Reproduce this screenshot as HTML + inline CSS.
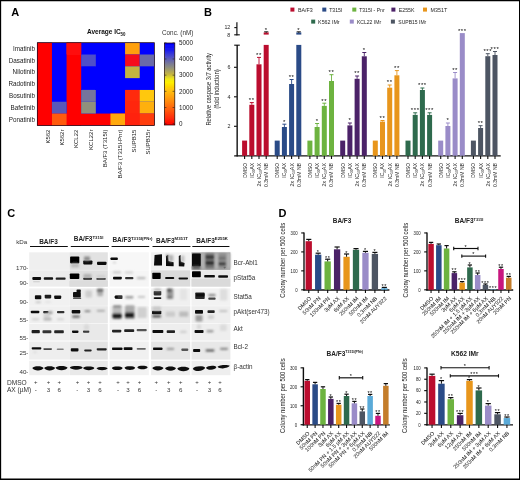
<!DOCTYPE html>
<html lang="en"><head><meta charset="utf-8"><title>Figure</title>
<style>
html,body{margin:0;padding:0;background:#fff;}
body{width:520px;height:480px;overflow:hidden;position:relative;font-family:"Liberation Sans",sans-serif;}
svg{position:absolute;left:0;top:0;display:block;}
svg text{font-family:"Liberation Sans",sans-serif;}
#frame{position:absolute;left:0;top:0;width:520px;height:480px;box-sizing:border-box;border-style:solid;border-color:#000;border-width:1.25px 1px 1.5px 1.1px;pointer-events:none;}
</style></head><body>
<svg width="520" height="480" viewBox="0 0 520 480">
<defs>
<linearGradient id="cbar" x1="0" y1="1" x2="0" y2="0">
<stop offset="0" stop-color="#ff0000"/><stop offset="0.08" stop-color="#ff2a08"/><stop offset="0.18" stop-color="#ff5a08"/><stop offset="0.34" stop-color="#ffa008"/><stop offset="0.44" stop-color="#ffc808"/><stop offset="0.52" stop-color="#fff000"/><stop offset="0.56" stop-color="#f0e818"/><stop offset="0.62" stop-color="#c4b440"/><stop offset="0.70" stop-color="#90907c"/><stop offset="0.76" stop-color="#74749c"/><stop offset="0.84" stop-color="#4848cc"/><stop offset="0.92" stop-color="#1818f0"/><stop offset="1" stop-color="#0000ff"/>
</linearGradient>
<filter id="bs" x="-5%" y="-5%" width="110%" height="110%"><feGaussianBlur stdDeviation="0.45"/></filter>
<filter id="bm" x="-5%" y="-5%" width="110%" height="110%"><feGaussianBlur stdDeviation="0.9"/></filter>
<filter id="soft" x="0" y="0" width="100%" height="100%" filterUnits="userSpaceOnUse"><feGaussianBlur stdDeviation="0.32"/></filter>
</defs>
<rect x="0" y="0" width="520" height="480" fill="#fff"/>
<g filter="url(#soft)">
<g id="panelA">
<text x="11.2" y="16" font-size="11" font-weight="bold" fill="#000">A</text>
<text x="87" y="34.2" font-size="6.8" font-weight="bold" fill="#111" textLength="38.5" lengthAdjust="spacingAndGlyphs">Average IC<tspan font-size="4.6" dy="1.7">50</tspan></text>
<text x="162" y="34.6" font-size="6.3" fill="#333" textLength="31.4" lengthAdjust="spacingAndGlyphs">Conc. (nM)</text>
<rect x="37.3" y="42.7" width="117.04" height="82.67" fill="#0000ff"/>
<rect x="37.3" y="42.7" width="14.63" height="82.67" fill="#ff0000"/>
<rect x="66.56" y="42.7" width="14.63" height="82.67" fill="#ff0000"/>
<rect x="37.3" y="113.56" width="117.04" height="11.81" fill="#ff0000"/>
<rect x="125.08" y="89.94" width="14.63" height="35.43" fill="#ff2610"/>
<rect x="66.56" y="42.7" width="14.63" height="11.81" fill="#ff1010"/>
<rect x="125.08" y="42.7" width="14.63" height="11.81" fill="#ffa010"/>
<rect x="81.19" y="54.51" width="14.63" height="11.81" fill="#5050c8"/>
<rect x="125.08" y="54.51" width="14.63" height="11.81" fill="#f5101a"/>
<rect x="139.71" y="54.51" width="14.63" height="11.81" fill="#6a6aa8"/>
<rect x="125.08" y="66.32" width="14.63" height="11.81" fill="#c4b440"/>
<rect x="81.19" y="89.94" width="14.63" height="11.81" fill="#74749c"/>
<rect x="125.08" y="89.94" width="14.63" height="11.81" fill="#ff2a10"/>
<rect x="139.71" y="89.94" width="14.63" height="11.81" fill="#ffc810"/>
<rect x="51.93" y="101.75" width="14.63" height="11.81" fill="#5858b8"/>
<rect x="81.19" y="101.75" width="14.63" height="11.81" fill="#90907c"/>
<rect x="125.08" y="101.75" width="14.63" height="11.81" fill="#ff2610"/>
<rect x="139.71" y="101.75" width="14.63" height="11.81" fill="#ffb010"/>
<rect x="51.93" y="113.56" width="14.63" height="11.81" fill="#ff5a10"/>
<rect x="110.45" y="113.56" width="14.63" height="11.81" fill="#ffa810"/>
<rect x="125.08" y="113.56" width="14.63" height="11.81" fill="#ff2010"/>
<rect x="139.71" y="113.56" width="14.63" height="11.81" fill="#ff3c10"/>
<rect x="37.3" y="42.7" width="117.04" height="82.67" fill="none" stroke="#1a0505" stroke-width="0.7"/>
<text x="35" y="50.81" font-size="6.3" text-anchor="end" fill="#222">Imatinib</text>
<text x="35" y="62.62" font-size="6.3" text-anchor="end" fill="#222">Dasatinib</text>
<text x="35" y="74.43" font-size="6.3" text-anchor="end" fill="#222">Nilotinib</text>
<text x="35" y="86.23" font-size="6.3" text-anchor="end" fill="#222">Radotinib</text>
<text x="35" y="98.05" font-size="6.3" text-anchor="end" fill="#222">Bosutinib</text>
<text x="35" y="109.86" font-size="6.3" text-anchor="end" fill="#222">Bafetinib</text>
<text x="35" y="121.67" font-size="6.3" text-anchor="end" fill="#222">Ponatinib</text>
<text x="49.6" y="129.6" font-size="6" text-anchor="end" fill="#222" transform="rotate(-90 49.6 129.6)">K562</text>
<text x="63.6" y="129.6" font-size="6" text-anchor="end" fill="#222" transform="rotate(-90 63.6 129.6)">K562r</text>
<text x="77.9" y="129.6" font-size="6" text-anchor="end" fill="#222" transform="rotate(-90 77.9 129.6)">KCL22</text>
<text x="92.7" y="129.6" font-size="6" text-anchor="end" fill="#222" transform="rotate(-90 92.7 129.6)">KCL22r</text>
<text x="107.5" y="129.6" font-size="6" text-anchor="end" fill="#222" transform="rotate(-90 107.5 129.6)">BA/F3 (T315I)</text>
<text x="122.3" y="129.6" font-size="6" text-anchor="end" fill="#222" transform="rotate(-90 122.3 129.6)">BA/F3 (T315I-Pnr)</text>
<text x="135.8" y="129.6" font-size="6" text-anchor="end" fill="#222" transform="rotate(-90 135.8 129.6)">SUPB15</text>
<text x="150" y="129.6" font-size="6" text-anchor="end" fill="#222" transform="rotate(-90 150 129.6)">SUPB15r</text>
<rect x="164.4" y="43" width="10.4" height="82" fill="url(#cbar)" stroke="#1a0505" stroke-width="0.7"/>
<line x1="172.6" y1="123.7" x2="174.6" y2="123.7" stroke="#222" stroke-width="0.6"/>
<line x1="164.4" y1="123.7" x2="166.4" y2="123.7" stroke="#222" stroke-width="0.6"/>
<text x="179" y="126" font-size="6.3" fill="#222">0</text>
<line x1="172.6" y1="107.52" x2="174.6" y2="107.52" stroke="#222" stroke-width="0.6"/>
<line x1="164.4" y1="107.52" x2="166.4" y2="107.52" stroke="#222" stroke-width="0.6"/>
<text x="179" y="109.82" font-size="6.3" fill="#222">1000</text>
<line x1="172.6" y1="91.34" x2="174.6" y2="91.34" stroke="#222" stroke-width="0.6"/>
<line x1="164.4" y1="91.34" x2="166.4" y2="91.34" stroke="#222" stroke-width="0.6"/>
<text x="179" y="93.64" font-size="6.3" fill="#222">2000</text>
<line x1="172.6" y1="75.16" x2="174.6" y2="75.16" stroke="#222" stroke-width="0.6"/>
<line x1="164.4" y1="75.16" x2="166.4" y2="75.16" stroke="#222" stroke-width="0.6"/>
<text x="179" y="77.46" font-size="6.3" fill="#222">3000</text>
<line x1="172.6" y1="58.98" x2="174.6" y2="58.98" stroke="#222" stroke-width="0.6"/>
<line x1="164.4" y1="58.98" x2="166.4" y2="58.98" stroke="#222" stroke-width="0.6"/>
<text x="179" y="61.28" font-size="6.3" fill="#222">4000</text>
<line x1="172.6" y1="42.8" x2="174.6" y2="42.8" stroke="#222" stroke-width="0.6"/>
<line x1="164.4" y1="42.8" x2="166.4" y2="42.8" stroke="#222" stroke-width="0.6"/>
<text x="179" y="45.1" font-size="6.3" fill="#222">5000</text>
</g>
<g id="panelB">
<text x="204" y="16" font-size="11" font-weight="bold" fill="#000">B</text>
<rect x="290.4" y="7.6" width="4" height="4" fill="#bb0c2e"/>
<text x="298" y="11.5" font-size="5.4" fill="#1e1e1e" textLength="14.8" lengthAdjust="spacingAndGlyphs">BA/F3</text>
<rect x="322.3" y="7.6" width="4" height="4" fill="#2b4b87"/>
<text x="329.2" y="11.5" font-size="5.4" fill="#1e1e1e" textLength="13.2" lengthAdjust="spacingAndGlyphs">T315I</text>
<rect x="352.3" y="7.6" width="4" height="4" fill="#6db33f"/>
<text x="359.2" y="11.5" font-size="5.4" fill="#1e1e1e" textLength="25.4" lengthAdjust="spacingAndGlyphs">T315I - Pnr</text>
<rect x="391.4" y="7.6" width="4" height="4" fill="#4b2167"/>
<text x="398.8" y="11.5" font-size="5.4" fill="#1e1e1e" textLength="15.7" lengthAdjust="spacingAndGlyphs">E255K</text>
<rect x="423" y="7.6" width="4" height="4" fill="#e8961c"/>
<text x="430.6" y="11.5" font-size="5.4" fill="#1e1e1e" textLength="16.7" lengthAdjust="spacingAndGlyphs">M351T</text>
<rect x="311.2" y="19.6" width="4" height="4" fill="#2e6b4d"/>
<text x="318.1" y="23.5" font-size="5.4" fill="#1e1e1e" textLength="21.5" lengthAdjust="spacingAndGlyphs">K562 IMr</text>
<rect x="349.8" y="19.6" width="4" height="4" fill="#9a8cc8"/>
<text x="356.9" y="23.5" font-size="5.4" fill="#1e1e1e" textLength="24.3" lengthAdjust="spacingAndGlyphs">KCL22 IMr</text>
<rect x="390.9" y="19.6" width="4" height="4" fill="#4d5563"/>
<text x="398.3" y="23.5" font-size="5.4" fill="#1e1e1e" textLength="28" lengthAdjust="spacingAndGlyphs">SUPB15 IMr</text>
<line x1="237.15" y1="44.9" x2="237.15" y2="156.4" stroke="#111" stroke-width="1.4"/>
<line x1="234.2" y1="155.9" x2="500.7" y2="155.9" stroke="#111" stroke-width="1.4"/>
<line x1="234.2" y1="45.2" x2="239.8" y2="45.2" stroke="#111" stroke-width="1.1"/>
<line x1="234" y1="126.3" x2="236.9" y2="126.3" stroke="#111" stroke-width="1.1"/>
<text x="230.5" y="128.2" font-size="5.3" text-anchor="end" fill="#1e1e1e">2</text>
<line x1="234" y1="96.8" x2="236.9" y2="96.8" stroke="#111" stroke-width="1.1"/>
<text x="230.5" y="98.7" font-size="5.3" text-anchor="end" fill="#1e1e1e">4</text>
<line x1="234" y1="67.3" x2="236.9" y2="67.3" stroke="#111" stroke-width="1.1"/>
<text x="230.5" y="69.2" font-size="5.3" text-anchor="end" fill="#1e1e1e">6</text>
<line x1="236.9" y1="22.3" x2="236.9" y2="35.4" stroke="#111" stroke-width="1.2"/>
<line x1="234.3" y1="27.6" x2="236.9" y2="27.6" stroke="#111" stroke-width="1.1"/>
<line x1="234.2" y1="34.8" x2="239.8" y2="34.8" stroke="#111" stroke-width="1.1"/>
<text x="230.3" y="29.3" font-size="5.3" text-anchor="end" fill="#1e1e1e">12</text>
<text x="230.3" y="36.5" font-size="5.3" text-anchor="end" fill="#1e1e1e">8</text>
<text x="210.6" y="125.6" font-size="7" fill="#1e1e1e" textLength="72.5" lengthAdjust="spacingAndGlyphs" transform="rotate(-90 210.6 125.6)">Relative caspase 3/7 activity</text>
<text x="219" y="108.8" font-size="7" fill="#1e1e1e" textLength="39.6" lengthAdjust="spacingAndGlyphs" transform="rotate(-90 219 108.8)">(fold induction)</text>
<rect x="242.1" y="140.6" width="5" height="15.2" fill="#bb0c2e"/>
<line x1="244.6" y1="155.8" x2="244.6" y2="159" stroke="#111" stroke-width="1.1"/>
<text x="246.5" y="163" font-size="5.1" text-anchor="end" fill="#1e1e1e" textLength="14.7" lengthAdjust="spacingAndGlyphs" transform="rotate(-90 246.5 163)">DMSO</text>
<rect x="249.3" y="104.8" width="5" height="51" fill="#bb0c2e"/>
<line x1="251.8" y1="104.8" x2="251.8" y2="102.6" stroke="#bb0c2e" stroke-width="0.9"/>
<line x1="249.8" y1="102.6" x2="253.8" y2="102.6" stroke="#bb0c2e" stroke-width="1"/>
<text x="251.8" y="102" font-size="6" text-anchor="middle" fill="#000" letter-spacing="0.6">**</text>
<line x1="251.8" y1="155.8" x2="251.8" y2="159" stroke="#111" stroke-width="1.1"/>
<text x="253.7" y="163" font-size="5.1" text-anchor="end" fill="#1e1e1e" textLength="14.7" lengthAdjust="spacingAndGlyphs" transform="rotate(-90 253.7 163)">IC<tspan font-size="3.2" dy="1.2">50</tspan><tspan dy="-1.2">AX</tspan></text>
<rect x="256.5" y="64.3" width="5" height="91.5" fill="#bb0c2e"/>
<line x1="259" y1="64.3" x2="259" y2="57.4" stroke="#bb0c2e" stroke-width="0.9"/>
<line x1="257" y1="57.4" x2="261" y2="57.4" stroke="#bb0c2e" stroke-width="1"/>
<text x="259" y="56.8" font-size="6" text-anchor="middle" fill="#000" letter-spacing="0.6">**</text>
<line x1="259" y1="155.8" x2="259" y2="159" stroke="#111" stroke-width="1.1"/>
<text x="260.9" y="163" font-size="5.1" text-anchor="end" fill="#1e1e1e" textLength="23.4" lengthAdjust="spacingAndGlyphs" transform="rotate(-90 260.9 163)">2x IC<tspan font-size="3.2" dy="1.2">50</tspan><tspan dy="-1.2">AX</tspan></text>
<rect x="263.7" y="44.9" width="5" height="110.9" fill="#bb0c2e"/>
<rect x="263.7" y="32.4" width="5" height="2.2" fill="#bb0c2e"/>
<line x1="264.1" y1="31.7" x2="268.3" y2="31.7" stroke="#111" stroke-width="0.8"/>
<line x1="266.2" y1="31.7" x2="266.2" y2="33" stroke="#111" stroke-width="0.8"/>
<text x="266.2" y="31.6" font-size="6" text-anchor="middle" fill="#000" letter-spacing="0.6">*</text>
<line x1="266.2" y1="155.8" x2="266.2" y2="159" stroke="#111" stroke-width="1.1"/>
<text x="268.1" y="163" font-size="5.1" text-anchor="end" fill="#1e1e1e" textLength="24" lengthAdjust="spacingAndGlyphs" transform="rotate(-90 268.1 163)">0.3mM NB</text>
<rect x="274.7" y="140.6" width="5" height="15.2" fill="#2b4b87"/>
<line x1="277.2" y1="155.8" x2="277.2" y2="159" stroke="#111" stroke-width="1.1"/>
<text x="279.1" y="163" font-size="5.1" text-anchor="end" fill="#1e1e1e" textLength="14.7" lengthAdjust="spacingAndGlyphs" transform="rotate(-90 279.1 163)">DMSO</text>
<rect x="281.9" y="127" width="5" height="28.8" fill="#2b4b87"/>
<line x1="284.4" y1="127" x2="284.4" y2="124.2" stroke="#2b4b87" stroke-width="0.9"/>
<line x1="282.4" y1="124.2" x2="286.4" y2="124.2" stroke="#2b4b87" stroke-width="1"/>
<text x="284.4" y="123.6" font-size="6" text-anchor="middle" fill="#000" letter-spacing="0.6">*</text>
<line x1="284.4" y1="155.8" x2="284.4" y2="159" stroke="#111" stroke-width="1.1"/>
<text x="286.3" y="163" font-size="5.1" text-anchor="end" fill="#1e1e1e" textLength="14.7" lengthAdjust="spacingAndGlyphs" transform="rotate(-90 286.3 163)">IC<tspan font-size="3.2" dy="1.2">50</tspan><tspan dy="-1.2">AX</tspan></text>
<rect x="289.1" y="84" width="5" height="71.8" fill="#2b4b87"/>
<line x1="291.6" y1="84" x2="291.6" y2="79.5" stroke="#2b4b87" stroke-width="0.9"/>
<line x1="289.6" y1="79.5" x2="293.6" y2="79.5" stroke="#2b4b87" stroke-width="1"/>
<text x="291.6" y="78.9" font-size="6" text-anchor="middle" fill="#000" letter-spacing="0.6">**</text>
<line x1="291.6" y1="155.8" x2="291.6" y2="159" stroke="#111" stroke-width="1.1"/>
<text x="293.5" y="163" font-size="5.1" text-anchor="end" fill="#1e1e1e" textLength="23.4" lengthAdjust="spacingAndGlyphs" transform="rotate(-90 293.5 163)">2x IC<tspan font-size="3.2" dy="1.2">50</tspan><tspan dy="-1.2">AX</tspan></text>
<rect x="296.3" y="44.9" width="5" height="110.9" fill="#2b4b87"/>
<rect x="296.3" y="32.4" width="5" height="2.2" fill="#2b4b87"/>
<line x1="296.7" y1="31.7" x2="300.9" y2="31.7" stroke="#111" stroke-width="0.8"/>
<line x1="298.8" y1="31.7" x2="298.8" y2="33" stroke="#111" stroke-width="0.8"/>
<text x="298.8" y="31.6" font-size="6" text-anchor="middle" fill="#000" letter-spacing="0.6">*</text>
<line x1="298.8" y1="155.8" x2="298.8" y2="159" stroke="#111" stroke-width="1.1"/>
<text x="300.7" y="163" font-size="5.1" text-anchor="end" fill="#1e1e1e" textLength="24" lengthAdjust="spacingAndGlyphs" transform="rotate(-90 300.7 163)">0.3mM NB</text>
<rect x="307.4" y="140.6" width="5" height="15.2" fill="#6db33f"/>
<line x1="309.9" y1="155.8" x2="309.9" y2="159" stroke="#111" stroke-width="1.1"/>
<text x="311.8" y="163" font-size="5.1" text-anchor="end" fill="#1e1e1e" textLength="14.7" lengthAdjust="spacingAndGlyphs" transform="rotate(-90 311.8 163)">DMSO</text>
<rect x="314.6" y="127" width="5" height="28.8" fill="#6db33f"/>
<line x1="317.1" y1="127" x2="317.1" y2="123.5" stroke="#6db33f" stroke-width="0.9"/>
<line x1="315.1" y1="123.5" x2="319.1" y2="123.5" stroke="#6db33f" stroke-width="1"/>
<text x="317.1" y="122.9" font-size="6" text-anchor="middle" fill="#000" letter-spacing="0.6">*</text>
<line x1="317.1" y1="155.8" x2="317.1" y2="159" stroke="#111" stroke-width="1.1"/>
<text x="319" y="163" font-size="5.1" text-anchor="end" fill="#1e1e1e" textLength="14.7" lengthAdjust="spacingAndGlyphs" transform="rotate(-90 319 163)">IC<tspan font-size="3.2" dy="1.2">50</tspan><tspan dy="-1.2">AX</tspan></text>
<rect x="321.8" y="105.9" width="5" height="49.9" fill="#6db33f"/>
<line x1="324.3" y1="105.9" x2="324.3" y2="103.2" stroke="#6db33f" stroke-width="0.9"/>
<line x1="322.3" y1="103.2" x2="326.3" y2="103.2" stroke="#6db33f" stroke-width="1"/>
<text x="324.3" y="102.6" font-size="6" text-anchor="middle" fill="#000" letter-spacing="0.6">**</text>
<line x1="324.3" y1="155.8" x2="324.3" y2="159" stroke="#111" stroke-width="1.1"/>
<text x="326.2" y="163" font-size="5.1" text-anchor="end" fill="#1e1e1e" textLength="23.4" lengthAdjust="spacingAndGlyphs" transform="rotate(-90 326.2 163)">2x IC<tspan font-size="3.2" dy="1.2">50</tspan><tspan dy="-1.2">AX</tspan></text>
<rect x="329" y="81" width="5" height="74.8" fill="#6db33f"/>
<line x1="331.5" y1="81" x2="331.5" y2="74.7" stroke="#6db33f" stroke-width="0.9"/>
<line x1="329.5" y1="74.7" x2="333.5" y2="74.7" stroke="#6db33f" stroke-width="1"/>
<text x="331.5" y="74.1" font-size="6" text-anchor="middle" fill="#000" letter-spacing="0.6">**</text>
<line x1="331.5" y1="155.8" x2="331.5" y2="159" stroke="#111" stroke-width="1.1"/>
<text x="333.4" y="163" font-size="5.1" text-anchor="end" fill="#1e1e1e" textLength="24" lengthAdjust="spacingAndGlyphs" transform="rotate(-90 333.4 163)">0.3mM NB</text>
<rect x="340.2" y="140.6" width="5" height="15.2" fill="#4b2167"/>
<line x1="342.7" y1="155.8" x2="342.7" y2="159" stroke="#111" stroke-width="1.1"/>
<text x="344.6" y="163" font-size="5.1" text-anchor="end" fill="#1e1e1e" textLength="14.7" lengthAdjust="spacingAndGlyphs" transform="rotate(-90 344.6 163)">DMSO</text>
<rect x="347.4" y="125.4" width="5" height="30.4" fill="#4b2167"/>
<line x1="349.9" y1="125.4" x2="349.9" y2="123" stroke="#4b2167" stroke-width="0.9"/>
<line x1="347.9" y1="123" x2="351.9" y2="123" stroke="#4b2167" stroke-width="1"/>
<text x="349.9" y="122.4" font-size="6" text-anchor="middle" fill="#000" letter-spacing="0.6">*</text>
<line x1="349.9" y1="155.8" x2="349.9" y2="159" stroke="#111" stroke-width="1.1"/>
<text x="351.8" y="163" font-size="5.1" text-anchor="end" fill="#1e1e1e" textLength="14.7" lengthAdjust="spacingAndGlyphs" transform="rotate(-90 351.8 163)">IC<tspan font-size="3.2" dy="1.2">50</tspan><tspan dy="-1.2">AX</tspan></text>
<rect x="354.6" y="78.8" width="5" height="77" fill="#4b2167"/>
<line x1="357.1" y1="78.8" x2="357.1" y2="76" stroke="#4b2167" stroke-width="0.9"/>
<line x1="355.1" y1="76" x2="359.1" y2="76" stroke="#4b2167" stroke-width="1"/>
<text x="357.1" y="75.4" font-size="6" text-anchor="middle" fill="#000" letter-spacing="0.6">**</text>
<line x1="357.1" y1="155.8" x2="357.1" y2="159" stroke="#111" stroke-width="1.1"/>
<text x="359" y="163" font-size="5.1" text-anchor="end" fill="#1e1e1e" textLength="23.4" lengthAdjust="spacingAndGlyphs" transform="rotate(-90 359 163)">2x IC<tspan font-size="3.2" dy="1.2">50</tspan><tspan dy="-1.2">AX</tspan></text>
<rect x="361.8" y="56.3" width="5" height="99.5" fill="#4b2167"/>
<line x1="364.3" y1="56.3" x2="364.3" y2="52.5" stroke="#4b2167" stroke-width="0.9"/>
<line x1="362.3" y1="52.5" x2="366.3" y2="52.5" stroke="#4b2167" stroke-width="1"/>
<text x="364.3" y="51.9" font-size="6" text-anchor="middle" fill="#000" letter-spacing="0.6">*</text>
<line x1="364.3" y1="155.8" x2="364.3" y2="159" stroke="#111" stroke-width="1.1"/>
<text x="366.2" y="163" font-size="5.1" text-anchor="end" fill="#1e1e1e" textLength="24" lengthAdjust="spacingAndGlyphs" transform="rotate(-90 366.2 163)">0.3mM NB</text>
<rect x="372.8" y="140.6" width="5" height="15.2" fill="#e8961c"/>
<line x1="375.3" y1="155.8" x2="375.3" y2="159" stroke="#111" stroke-width="1.1"/>
<text x="377.2" y="163" font-size="5.1" text-anchor="end" fill="#1e1e1e" textLength="14.7" lengthAdjust="spacingAndGlyphs" transform="rotate(-90 377.2 163)">DMSO</text>
<rect x="380" y="121.6" width="5" height="34.2" fill="#e8961c"/>
<line x1="382.5" y1="121.6" x2="382.5" y2="120.5" stroke="#e8961c" stroke-width="0.9"/>
<line x1="380.5" y1="120.5" x2="384.5" y2="120.5" stroke="#e8961c" stroke-width="1"/>
<text x="382.5" y="119.9" font-size="6" text-anchor="middle" fill="#000" letter-spacing="0.6">**</text>
<line x1="382.5" y1="155.8" x2="382.5" y2="159" stroke="#111" stroke-width="1.1"/>
<text x="384.4" y="163" font-size="5.1" text-anchor="end" fill="#1e1e1e" textLength="14.7" lengthAdjust="spacingAndGlyphs" transform="rotate(-90 384.4 163)">IC<tspan font-size="3.2" dy="1.2">50</tspan><tspan dy="-1.2">AX</tspan></text>
<rect x="387.2" y="87.7" width="5" height="68.1" fill="#e8961c"/>
<line x1="389.7" y1="87.7" x2="389.7" y2="85" stroke="#e8961c" stroke-width="0.9"/>
<line x1="387.7" y1="85" x2="391.7" y2="85" stroke="#e8961c" stroke-width="1"/>
<text x="389.7" y="84.4" font-size="6" text-anchor="middle" fill="#000" letter-spacing="0.6">**</text>
<line x1="389.7" y1="155.8" x2="389.7" y2="159" stroke="#111" stroke-width="1.1"/>
<text x="391.6" y="163" font-size="5.1" text-anchor="end" fill="#1e1e1e" textLength="23.4" lengthAdjust="spacingAndGlyphs" transform="rotate(-90 391.6 163)">2x IC<tspan font-size="3.2" dy="1.2">50</tspan><tspan dy="-1.2">AX</tspan></text>
<rect x="394.4" y="75.3" width="5" height="80.5" fill="#e8961c"/>
<line x1="396.9" y1="75.3" x2="396.9" y2="70.6" stroke="#e8961c" stroke-width="0.9"/>
<line x1="394.9" y1="70.6" x2="398.9" y2="70.6" stroke="#e8961c" stroke-width="1"/>
<text x="396.9" y="70" font-size="6" text-anchor="middle" fill="#000" letter-spacing="0.6">**</text>
<line x1="396.9" y1="155.8" x2="396.9" y2="159" stroke="#111" stroke-width="1.1"/>
<text x="398.8" y="163" font-size="5.1" text-anchor="end" fill="#1e1e1e" textLength="24" lengthAdjust="spacingAndGlyphs" transform="rotate(-90 398.8 163)">0.3mM NB</text>
<rect x="405.5" y="140.6" width="5" height="15.2" fill="#2e6b4d"/>
<line x1="408" y1="155.8" x2="408" y2="159" stroke="#111" stroke-width="1.1"/>
<text x="409.9" y="163" font-size="5.1" text-anchor="end" fill="#1e1e1e" textLength="14.7" lengthAdjust="spacingAndGlyphs" transform="rotate(-90 409.9 163)">DMSO</text>
<rect x="412.7" y="114.9" width="5" height="40.9" fill="#2e6b4d"/>
<line x1="415.2" y1="114.9" x2="415.2" y2="112.8" stroke="#2e6b4d" stroke-width="0.9"/>
<line x1="413.2" y1="112.8" x2="417.2" y2="112.8" stroke="#2e6b4d" stroke-width="1"/>
<text x="415.2" y="112.2" font-size="6" text-anchor="middle" fill="#000" letter-spacing="0.6">***</text>
<line x1="415.2" y1="155.8" x2="415.2" y2="159" stroke="#111" stroke-width="1.1"/>
<text x="417.1" y="163" font-size="5.1" text-anchor="end" fill="#1e1e1e" textLength="14.7" lengthAdjust="spacingAndGlyphs" transform="rotate(-90 417.1 163)">IC<tspan font-size="3.2" dy="1.2">50</tspan><tspan dy="-1.2">AX</tspan></text>
<rect x="419.9" y="90" width="5" height="65.8" fill="#2e6b4d"/>
<line x1="422.4" y1="90" x2="422.4" y2="88" stroke="#2e6b4d" stroke-width="0.9"/>
<line x1="420.4" y1="88" x2="424.4" y2="88" stroke="#2e6b4d" stroke-width="1"/>
<text x="422.4" y="87.4" font-size="6" text-anchor="middle" fill="#000" letter-spacing="0.6">***</text>
<line x1="422.4" y1="155.8" x2="422.4" y2="159" stroke="#111" stroke-width="1.1"/>
<text x="424.3" y="163" font-size="5.1" text-anchor="end" fill="#1e1e1e" textLength="23.4" lengthAdjust="spacingAndGlyphs" transform="rotate(-90 424.3 163)">2x IC<tspan font-size="3.2" dy="1.2">50</tspan><tspan dy="-1.2">AX</tspan></text>
<rect x="427.1" y="114.9" width="5" height="40.9" fill="#2e6b4d"/>
<line x1="429.6" y1="114.9" x2="429.6" y2="112.8" stroke="#2e6b4d" stroke-width="0.9"/>
<line x1="427.6" y1="112.8" x2="431.6" y2="112.8" stroke="#2e6b4d" stroke-width="1"/>
<text x="429.6" y="112.2" font-size="6" text-anchor="middle" fill="#000" letter-spacing="0.6">***</text>
<line x1="429.6" y1="155.8" x2="429.6" y2="159" stroke="#111" stroke-width="1.1"/>
<text x="431.5" y="163" font-size="5.1" text-anchor="end" fill="#1e1e1e" textLength="24" lengthAdjust="spacingAndGlyphs" transform="rotate(-90 431.5 163)">0.3mM NB</text>
<rect x="438.2" y="140.6" width="5" height="15.2" fill="#9a8cc8"/>
<line x1="440.7" y1="155.8" x2="440.7" y2="159" stroke="#111" stroke-width="1.1"/>
<text x="442.6" y="163" font-size="5.1" text-anchor="end" fill="#1e1e1e" textLength="14.7" lengthAdjust="spacingAndGlyphs" transform="rotate(-90 442.6 163)">DMSO</text>
<rect x="445.4" y="126" width="5" height="29.8" fill="#9a8cc8"/>
<line x1="447.9" y1="126" x2="447.9" y2="123" stroke="#9a8cc8" stroke-width="0.9"/>
<line x1="445.9" y1="123" x2="449.9" y2="123" stroke="#9a8cc8" stroke-width="1"/>
<text x="447.9" y="122.4" font-size="6" text-anchor="middle" fill="#000" letter-spacing="0.6">*</text>
<line x1="447.9" y1="155.8" x2="447.9" y2="159" stroke="#111" stroke-width="1.1"/>
<text x="449.8" y="163" font-size="5.1" text-anchor="end" fill="#1e1e1e" textLength="14.7" lengthAdjust="spacingAndGlyphs" transform="rotate(-90 449.8 163)">IC<tspan font-size="3.2" dy="1.2">50</tspan><tspan dy="-1.2">AX</tspan></text>
<rect x="452.6" y="78.4" width="5" height="77.4" fill="#9a8cc8"/>
<line x1="455.1" y1="78.4" x2="455.1" y2="72.5" stroke="#9a8cc8" stroke-width="0.9"/>
<line x1="453.1" y1="72.5" x2="457.1" y2="72.5" stroke="#9a8cc8" stroke-width="1"/>
<text x="455.1" y="71.9" font-size="6" text-anchor="middle" fill="#000" letter-spacing="0.6">**</text>
<line x1="455.1" y1="155.8" x2="455.1" y2="159" stroke="#111" stroke-width="1.1"/>
<text x="457" y="163" font-size="5.1" text-anchor="end" fill="#1e1e1e" textLength="23.4" lengthAdjust="spacingAndGlyphs" transform="rotate(-90 457 163)">2x IC<tspan font-size="3.2" dy="1.2">50</tspan><tspan dy="-1.2">AX</tspan></text>
<rect x="459.8" y="33.1" width="5" height="122.7" fill="#9a8cc8"/>
<text x="462.3" y="32.5" font-size="6" text-anchor="middle" fill="#000" letter-spacing="0.6">***</text>
<line x1="462.3" y1="155.8" x2="462.3" y2="159" stroke="#111" stroke-width="1.1"/>
<text x="464.2" y="163" font-size="5.1" text-anchor="end" fill="#1e1e1e" textLength="24" lengthAdjust="spacingAndGlyphs" transform="rotate(-90 464.2 163)">0.3mM NB</text>
<rect x="470.9" y="140.6" width="5" height="15.2" fill="#4d5563"/>
<line x1="473.4" y1="155.8" x2="473.4" y2="159" stroke="#111" stroke-width="1.1"/>
<text x="475.3" y="163" font-size="5.1" text-anchor="end" fill="#1e1e1e" textLength="14.7" lengthAdjust="spacingAndGlyphs" transform="rotate(-90 475.3 163)">DMSO</text>
<rect x="478.1" y="128" width="5" height="27.8" fill="#4d5563"/>
<line x1="480.6" y1="128" x2="480.6" y2="125.7" stroke="#4d5563" stroke-width="0.9"/>
<line x1="478.6" y1="125.7" x2="482.6" y2="125.7" stroke="#4d5563" stroke-width="1"/>
<text x="480.6" y="125.1" font-size="6" text-anchor="middle" fill="#000" letter-spacing="0.6">**</text>
<line x1="480.6" y1="155.8" x2="480.6" y2="159" stroke="#111" stroke-width="1.1"/>
<text x="482.5" y="163" font-size="5.1" text-anchor="end" fill="#1e1e1e" textLength="14.7" lengthAdjust="spacingAndGlyphs" transform="rotate(-90 482.5 163)">IC<tspan font-size="3.2" dy="1.2">50</tspan><tspan dy="-1.2">AX</tspan></text>
<rect x="485.3" y="56.2" width="5" height="99.6" fill="#4d5563"/>
<line x1="487.8" y1="56.2" x2="487.8" y2="53.7" stroke="#4d5563" stroke-width="0.9"/>
<line x1="485.8" y1="53.7" x2="489.8" y2="53.7" stroke="#4d5563" stroke-width="1"/>
<text x="487.8" y="53.1" font-size="6" text-anchor="middle" fill="#000" letter-spacing="0.6">***</text>
<line x1="487.8" y1="155.8" x2="487.8" y2="159" stroke="#111" stroke-width="1.1"/>
<text x="489.7" y="163" font-size="5.1" text-anchor="end" fill="#1e1e1e" textLength="23.4" lengthAdjust="spacingAndGlyphs" transform="rotate(-90 489.7 163)">2x IC<tspan font-size="3.2" dy="1.2">50</tspan><tspan dy="-1.2">AX</tspan></text>
<rect x="492.5" y="55" width="5" height="100.8" fill="#4d5563"/>
<line x1="495" y1="55" x2="495" y2="51.5" stroke="#4d5563" stroke-width="0.9"/>
<line x1="493" y1="51.5" x2="497" y2="51.5" stroke="#4d5563" stroke-width="1"/>
<text x="495" y="50.9" font-size="6" text-anchor="middle" fill="#000" letter-spacing="0.6">***</text>
<line x1="495" y1="155.8" x2="495" y2="159" stroke="#111" stroke-width="1.1"/>
<text x="496.9" y="163" font-size="5.1" text-anchor="end" fill="#1e1e1e" textLength="24" lengthAdjust="spacingAndGlyphs" transform="rotate(-90 496.9 163)">0.3mM NB</text>
</g>
<g id="panelC">
<text x="7.3" y="217" font-size="11" font-weight="bold" fill="#000">C</text>
<text x="39.2" y="243.5" font-size="6.45" font-weight="bold" fill="#222">BA/F3</text>
<line x1="30" y1="246.45" x2="67.8" y2="246.45" stroke="#111" stroke-width="1.1"/>
<text x="73.8" y="241.4" font-size="6.45" font-weight="bold" fill="#222">BA/F3<tspan font-size="4.3" dy="-2.5">T315I</tspan></text>
<line x1="70.8" y1="246.45" x2="108.9" y2="246.45" stroke="#111" stroke-width="1.1"/>
<text x="112.4" y="242.2" font-size="6.45" font-weight="bold" fill="#222">BA/F3<tspan font-size="4.3" dy="-2.5">T315I(PNr)</tspan></text>
<line x1="111.6" y1="246.45" x2="149.2" y2="246.45" stroke="#111" stroke-width="1.1"/>
<text x="156" y="242.5" font-size="6.45" font-weight="bold" fill="#222">BA/F3<tspan font-size="4.3" dy="-2.5">M351T</tspan></text>
<line x1="152.5" y1="246.45" x2="190.4" y2="246.45" stroke="#111" stroke-width="1.1"/>
<text x="196.2" y="242.5" font-size="6.45" font-weight="bold" fill="#222">BA/F3<tspan font-size="4.3" dy="-2.5">E255K</tspan></text>
<line x1="192.3" y1="246.45" x2="229.4" y2="246.45" stroke="#111" stroke-width="1.1"/>
<text x="16.2" y="244" font-size="6.2" fill="#333">kDa</text>
<text x="28.4" y="269.6" font-size="6.2" text-anchor="end" fill="#333">170-</text>
<text x="28.4" y="285" font-size="6.2" text-anchor="end" fill="#333">90-</text>
<text x="28.4" y="303.8" font-size="6.2" text-anchor="end" fill="#333">90-</text>
<text x="28.4" y="321.6" font-size="6.2" text-anchor="end" fill="#333">55-</text>
<text x="28.4" y="339.5" font-size="6.2" text-anchor="end" fill="#333">55-</text>
<text x="28.4" y="354.9" font-size="6.2" text-anchor="end" fill="#333">25-</text>
<text x="28.4" y="373.9" font-size="6.2" text-anchor="end" fill="#333">40-</text>
<rect x="29.2" y="252.3" width="39.9" height="17.6" fill="#efefef"/>
<rect x="29.2" y="270.3" width="39.9" height="16.3" fill="#ededed"/>
<rect x="29.2" y="288.4" width="39.9" height="17.4" fill="#f1f1f1"/>
<rect x="29.2" y="306.2" width="39.9" height="17" fill="#f0f0f0"/>
<rect x="29.2" y="323.7" width="39.9" height="16.9" fill="#f0f0f0"/>
<rect x="29.2" y="341.5" width="39.9" height="18.1" fill="#eeeeee"/>
<rect x="29.2" y="360.8" width="39.9" height="14.4" fill="#efefef"/>
<rect x="69.4" y="252.3" width="38.4" height="17.6" fill="#e2e2e2"/>
<rect x="69.4" y="270.3" width="38.4" height="16.3" fill="#dfdfdf"/>
<rect x="69.4" y="288.4" width="38.4" height="17.4" fill="#ececec"/>
<rect x="69.4" y="306.2" width="38.4" height="17" fill="#e8e8e8"/>
<rect x="69.4" y="323.7" width="38.4" height="16.9" fill="#e9e9e9"/>
<rect x="69.4" y="341.5" width="38.4" height="18.1" fill="#e4e4e4"/>
<rect x="69.4" y="360.8" width="38.4" height="14.4" fill="#e9e9e9"/>
<rect x="109.6" y="252.3" width="39.2" height="17.6" fill="#f7f7f7"/>
<rect x="109.6" y="270.3" width="39.2" height="16.3" fill="#f5f5f5"/>
<rect x="109.6" y="288.4" width="39.2" height="17.4" fill="#f7f7f7"/>
<rect x="109.6" y="306.2" width="39.2" height="17" fill="#f1f1f1"/>
<rect x="109.6" y="323.7" width="39.2" height="16.9" fill="#f2f2f2"/>
<rect x="109.6" y="341.5" width="39.2" height="18.1" fill="#f0f0f0"/>
<rect x="109.6" y="360.8" width="39.2" height="14.4" fill="#f2f2f2"/>
<rect x="151.1" y="252.3" width="39.2" height="17.6" fill="#f2f2f2"/>
<rect x="151.1" y="270.3" width="39.2" height="16.3" fill="#dbdbdb"/>
<rect x="151.1" y="288.4" width="39.2" height="17.4" fill="#f0f0f0"/>
<rect x="151.1" y="306.2" width="39.2" height="17" fill="#e6e6e6"/>
<rect x="151.1" y="323.7" width="39.2" height="16.9" fill="#eeeeee"/>
<rect x="151.1" y="341.5" width="39.2" height="18.1" fill="#e6e6e6"/>
<rect x="151.1" y="360.8" width="39.2" height="14.4" fill="#eeeeee"/>
<rect x="191.5" y="252.3" width="38.9" height="17.6" fill="#a6a6a6"/>
<rect x="191.5" y="270.3" width="38.9" height="16.3" fill="#e9e9e9"/>
<rect x="191.5" y="288.4" width="38.9" height="17.4" fill="#f2f2f2"/>
<rect x="191.5" y="306.2" width="38.9" height="17" fill="#eeeeee"/>
<rect x="191.5" y="323.7" width="38.9" height="16.9" fill="#eeeeee"/>
<rect x="191.5" y="341.5" width="38.9" height="18.1" fill="#e8e8e8"/>
<rect x="191.5" y="360.8" width="38.9" height="14.4" fill="#eeeeee"/>
<rect x="191.5" y="278.8" width="38.9" height="7.8" fill="#dadada"/>
<rect x="69.4" y="281" width="38.4" height="5.6" fill="#dcdcdc"/>
<g filter="url(#bs)">
<rect x="32.3" y="277.1" width="8.8" height="2.8" fill="#111" rx="0.8"/>
<rect x="43.8" y="277.3" width="9.3" height="2.5" fill="#141414" rx="0.8"/>
<rect x="55.7" y="277.5" width="9.9" height="2.3" fill="#202020" rx="0.8"/>
<rect x="33" y="281.2" width="7" height="1" fill="#ccc" rx="0.8"/>
<rect x="34.9" y="295.2" width="6.4" height="4.1" fill="#111" rx="0.8"/>
<rect x="44.7" y="294.8" width="6.5" height="3.6" fill="#1c1c1c" rx="0.8"/>
<rect x="54.2" y="295.5" width="7" height="3.4" fill="#111" rx="0.8"/>
<rect x="30.8" y="310.8" width="8.5" height="2.5" fill="#111" rx="0.8"/>
<rect x="43.2" y="310.9" width="5.4" height="2.5" fill="#222" rx="0.8"/>
<rect x="57" y="310.9" width="7.4" height="2.3" fill="#333" rx="0.8"/>
<rect x="31.6" y="330.1" width="8.2" height="3.1" fill="#1a1a1a" rx="0.8"/>
<rect x="42.5" y="330.3" width="8.9" height="3" fill="#333" rx="0.8"/>
<rect x="54.2" y="330.2" width="9.6" height="3" fill="#252525" rx="0.8"/>
<rect x="31.7" y="347.3" width="9.6" height="2.1" fill="#111" rx="0.8"/>
<rect x="43.3" y="348.2" width="8.7" height="1.7" fill="#444" rx="0.8"/>
<rect x="56.7" y="348.6" width="7.1" height="1.4" fill="#808080" rx="0.8"/>
<path d="M32.3,368 C33.99,365.7 41.91,365.7 43.6,368 C42.24,371.32 33.66,371.32 32.3,368Z" fill="#0a0a0a"/>
<path d="M44.2,368.1 C45.84,365.8 53.47,365.8 55.1,368.1 C53.79,371.42 45.51,371.42 44.2,368.1Z" fill="#0a0a0a"/>
<path d="M55.5,367.8 C57.31,365.5 65.78,365.5 67.6,367.8 C66.15,371.12 56.95,371.12 55.5,367.8Z" fill="#0a0a0a"/>
<rect x="70.1" y="256.6" width="9.2" height="6.8" fill="#050505" rx="0.8"/>
<rect x="83.2" y="260.4" width="9.2" height="4" fill="#0a0a0a" rx="0.8"/>
<rect x="97" y="261.7" width="9.5" height="3.2" fill="#0a0a0a" rx="0.8"/>
<rect x="69.8" y="273.4" width="9.5" height="5.6" fill="#050505" rx="0.8"/>
<rect x="83.2" y="277.8" width="8.8" height="1.9" fill="#111" rx="0.8"/>
<rect x="96.3" y="278.1" width="9.5" height="1.7" fill="#222" rx="0.8"/>
<rect x="73" y="292" width="7.8" height="5.2" fill="#0a0a0a" rx="0.8"/>
<rect x="76.5" y="289.6" width="4.3" height="2.8" fill="#111" rx="0.8"/>
<rect x="73" y="297.6" width="8.2" height="1.2" fill="#222" rx="0.8"/>
<rect x="71.7" y="310" width="8.6" height="3.4" fill="#111" rx="0.8"/>
<rect x="72" y="330.4" width="6.5" height="2.5" fill="#111" rx="0.8"/>
<rect x="83" y="330.5" width="6.3" height="2.3" fill="#333" rx="0.8"/>
<rect x="70.8" y="348.2" width="7.7" height="3.2" fill="#111" rx="0.8"/>
<rect x="84.2" y="349.6" width="7.5" height="1.8" fill="#222" rx="0.8"/>
<rect x="96.7" y="348.2" width="10" height="2.2" fill="#222" rx="0.8"/>
<path d="M69.8,367.5 C71.73,365.57 80.77,365.57 82.7,367.5 C81.15,370.39 71.35,370.39 69.8,367.5Z" fill="#0a0a0a"/>
<path d="M83.1,368 C84.8,366.07 92.7,366.07 94.4,368 C93.04,370.89 84.46,370.89 83.1,368Z" fill="#0a0a0a"/>
<path d="M96.5,368.2 C98.18,366.52 106.02,366.52 107.7,368.2 C106.36,370.8 97.84,370.8 96.5,368.2Z" fill="#0a0a0a"/>
<rect x="110.5" y="257.4" width="7.3" height="2.7" fill="#0a0a0a" rx="0.8"/>
<rect x="113" y="276.8" width="8.8" height="2.6" fill="#111" rx="0.8"/>
<rect x="125.1" y="277" width="8.3" height="2.3" fill="#333" rx="0.8"/>
<rect x="115" y="295.3" width="7.5" height="3.7" fill="#333" rx="0.8"/>
<rect x="114.5" y="296" width="3.5" height="2" fill="#111" rx="0.8"/>
<rect x="112" y="329.7" width="9.3" height="2.7" fill="#222" rx="0.8"/>
<rect x="124.2" y="329.3" width="10" height="2.8" fill="#222" rx="0.8"/>
<rect x="136.7" y="328.9" width="10" height="2.3" fill="#555" rx="0.8"/>
<rect x="112" y="347.4" width="10.5" height="2.7" fill="#111" rx="0.8"/>
<rect x="123.7" y="347.2" width="8.8" height="2.8" fill="#111" rx="0.8"/>
<rect x="136.7" y="348" width="9.1" height="1.8" fill="#666" rx="0.8"/>
<path d="M111.8,367.9 C113.44,365.97 121.06,365.97 122.7,367.9 C121.39,370.79 113.11,370.79 111.8,367.9Z" fill="#0a0a0a"/>
<path d="M124.5,367.8 C126.11,365.87 133.59,365.87 135.2,367.8 C133.92,370.69 125.78,370.69 124.5,367.8Z" fill="#0a0a0a"/>
<path d="M137.3,367.2 C138.86,365.39 146.14,365.39 147.7,367.2 C146.45,369.95 138.55,369.95 137.3,367.2Z" fill="#0a0a0a"/>
<path d="M154.6,255 L162,254.3 L162,265.6 L154,265.4Z" fill="#0a0a0a"/>
<path d="M166,256 L168.2,255 L168.6,261 L173.6,262.2 L173.6,266.2 L166,266Z" fill="#0a0a0a"/>
<path d="M178.8,256 L180.6,255 L181,261.5 L184.6,263 L184.2,266.4 L178.8,266.2Z" fill="#0a0a0a"/>
<rect x="152.3" y="272.7" width="8.4" height="6.3" fill="#050505" rx="0.8"/>
<rect x="165.1" y="277.1" width="9.1" height="1.9" fill="#111" rx="0.8"/>
<rect x="178.5" y="277.5" width="9.5" height="1.9" fill="#111" rx="0.8"/>
<rect x="153.7" y="291" width="7.6" height="4.4" fill="#333" rx="0.8"/>
<rect x="153.7" y="297.2" width="7.6" height="1.9" fill="#111" rx="0.8"/>
<rect x="152" y="310.7" width="9.3" height="3.5" fill="#111" rx="0.8"/>
<rect x="152.5" y="329.9" width="10.8" height="3.2" fill="#0a0a0a" rx="0.8"/>
<rect x="166.7" y="330.2" width="8.3" height="2.8" fill="#222" rx="0.8"/>
<rect x="153" y="347.4" width="9.5" height="2.7" fill="#111" rx="0.8"/>
<rect x="181.3" y="348.6" width="7" height="2.3" fill="#555" rx="0.8"/>
<path d="M152.3,367.9 C153.98,365.6 161.82,365.6 163.5,367.9 C162.16,371.22 153.64,371.22 152.3,367.9Z" fill="#0a0a0a"/>
<path d="M165.1,368.3 C166.73,366 174.37,366 176,368.3 C174.69,371.62 166.41,371.62 165.1,368.3Z" fill="#0a0a0a"/>
<path d="M177.3,368.6 C179.12,366.05 187.59,366.05 189.4,368.6 C187.95,372.21 178.75,372.21 177.3,368.6Z" fill="#0a0a0a"/>
<rect x="192" y="253.4" width="8.8" height="13.1" fill="#080808" rx="0.8"/>
<rect x="223.5" y="266.6" width="2.1" height="1.6" fill="#111" rx="0.8"/>
<rect x="192" y="271.2" width="8.8" height="6.1" fill="#050505" rx="0.8"/>
<rect x="204.2" y="274.9" width="10.7" height="2.6" fill="#111" rx="0.8"/>
<rect x="218.2" y="275.2" width="9.8" height="2.5" fill="#111" rx="0.8"/>
<rect x="195.2" y="292.4" width="9.5" height="6.6" fill="#2a2a2a" rx="0.8"/>
<rect x="196" y="293.4" width="8.5" height="3.2" fill="#0a0a0a" rx="0.8"/>
<rect x="208.3" y="297.5" width="7.3" height="2.3" fill="#444" rx="0.8"/>
<rect x="195" y="310" width="8" height="3.8" fill="#111" rx="0.8"/>
<rect x="207.5" y="310.2" width="7.2" height="2.9" fill="#222" rx="0.8"/>
<rect x="194.6" y="329.9" width="8.9" height="3.1" fill="#0a0a0a" rx="0.8"/>
<rect x="193.1" y="348.9" width="7.1" height="3.1" fill="#111" rx="0.8"/>
<path d="M192.8,368.2 C194.66,365.65 203.34,365.65 205.2,368.2 C203.71,371.81 194.29,371.81 192.8,368.2Z" fill="#0a0a0a" transform="rotate(-4 199 368.5)"/>
<path d="M206,367.3 C207.57,365.12 214.93,365.12 216.5,367.3 C215.24,370.48 207.26,370.48 206,367.3Z" fill="#0a0a0a" transform="rotate(-4 211.25 367.6)"/>
<path d="M217.5,366.3 C219.34,364.49 227.96,364.49 229.8,366.3 C228.32,369.05 218.98,369.05 217.5,366.3Z" fill="#0a0a0a" transform="rotate(-4 223.65 366.6)"/>
</g>
<g filter="url(#bm)">
<rect x="35.5" y="301.4" width="5.5" height="1.6" fill="#bdbdbd" rx="0.8"/>
<rect x="45" y="301.4" width="6" height="1.2" fill="#d6d6d6" rx="0.8"/>
<rect x="48" y="311.3" width="4.5" height="2.7" fill="#999" rx="0.8"/>
<rect x="32" y="318.2" width="7" height="2.1" fill="#cfcfcf" rx="0.8"/>
<rect x="43.5" y="317.8" width="8" height="2.8" fill="#b4b4b4" rx="0.8"/>
<rect x="57" y="318.2" width="7" height="2" fill="#d4d4d4" rx="0.8"/>
<rect x="43.5" y="313.5" width="6.5" height="4" fill="#d0d0d0" rx="0.8"/>
<rect x="33" y="351.5" width="4" height="1.5" fill="#d8d8d8" rx="0.8"/>
<rect x="71" y="263.4" width="8" height="4.1" fill="#bbb" rx="0.8"/>
<rect x="84" y="256.5" width="6" height="4.3" fill="#8c8c8c" rx="0.8"/>
<rect x="83.5" y="274" width="8" height="4" fill="#b0b0b0" rx="0.8"/>
<rect x="96.5" y="275" width="9" height="3" fill="#cfcfcf" rx="0.8"/>
<rect x="85.4" y="290.5" width="6.6" height="7.1" fill="#cdcdcd" rx="0.8"/>
<rect x="97" y="288.8" width="6.2" height="3.7" fill="#6a6a6a" rx="0.8"/>
<rect x="97.3" y="292" width="5.7" height="4.2" fill="#b0b0b0" rx="0.8"/>
<rect x="72.2" y="315.2" width="7.6" height="2.8" fill="#777" rx="0.8"/>
<rect x="84.5" y="310.5" width="6" height="1.6" fill="#6a6a6a" rx="0.8"/>
<rect x="96.7" y="310.1" width="8.3" height="1.4" fill="#9a9a9a" rx="0.8"/>
<rect x="84" y="324.5" width="5" height="5.5" fill="#dadada" rx="0.8"/>
<rect x="113" y="261.9" width="3" height="1.4" fill="#bbb" rx="0.8"/>
<rect x="113" y="271.2" width="8" height="2.3" fill="#cccccc" rx="0.8"/>
<rect x="125" y="271.4" width="8" height="2.1" fill="#d0d0d0" rx="0.8"/>
<rect x="136.8" y="277.3" width="8.7" height="1.7" fill="#aaa" rx="0.8"/>
<rect x="125.4" y="296" width="8" height="2.4" fill="#999" rx="0.8"/>
<rect x="137.8" y="296" width="7.3" height="1.7" fill="#bdbdbd" rx="0.8"/>
<rect x="112.5" y="306" width="9.2" height="13" fill="#bcbcbc" rx="0.8"/>
<rect x="113" y="305.6" width="8.5" height="1.6" fill="#6a6a6a" rx="0.8"/>
<rect x="125.5" y="305.6" width="9" height="1.6" fill="#777" rx="0.8"/>
<rect x="112.5" y="313.4" width="9.2" height="5" fill="#0f0f0f" rx="0.8"/>
<rect x="125" y="306" width="9.7" height="13" fill="#aaaaaa" rx="0.8"/>
<rect x="125" y="312.4" width="9.2" height="5.6" fill="#1a1a1a" rx="0.8"/>
<rect x="137.5" y="307" width="9.2" height="11" fill="#d0d0d0" rx="0.8"/>
<rect x="168.8" y="255" width="4.6" height="6.5" fill="#b4b4b4" rx="0.8"/>
<rect x="166.3" y="254.6" width="2.2" height="2.4" fill="#666" rx="0.8"/>
<rect x="181" y="255.5" width="3.4" height="6.5" fill="#c2c2c2" rx="0.8"/>
<rect x="154" y="288.6" width="7" height="2.4" fill="#bbb" rx="0.8"/>
<rect x="166.9" y="288.6" width="6.5" height="10.4" fill="#9a9a9a" rx="0.8"/>
<rect x="167" y="288.8" width="4.5" height="3.2" fill="#555" rx="0.8"/>
<rect x="167" y="296" width="5" height="2.5" fill="#777" rx="0.8"/>
<rect x="180" y="289" width="7" height="11" fill="#e4e4e4" rx="0.8"/>
<rect x="152.3" y="315" width="8.7" height="2.6" fill="#555" rx="0.8"/>
<rect x="152.5" y="306.5" width="8.5" height="4.2" fill="#c8c8c8" rx="0.8"/>
<rect x="165.8" y="311.6" width="9.2" height="5.2" fill="#cbcbcb" rx="0.8"/>
<rect x="179.2" y="311.6" width="9.1" height="5.2" fill="#bcbcbc" rx="0.8"/>
<rect x="180" y="330.7" width="6.7" height="2.3" fill="#cdcdcd" rx="0.8"/>
<rect x="166.7" y="347.9" width="7.5" height="1.9" fill="#8a8a8a" rx="0.8"/>
<rect x="192.3" y="266" width="8.2" height="3" fill="#555" rx="0.8"/>
<rect x="205.2" y="253.5" width="9" height="15" fill="#6e6e6e" rx="0.8"/>
<rect x="205.4" y="255.8" width="8.8" height="2.8" fill="#2a2a2a" rx="0.8"/>
<rect x="205.4" y="261.6" width="8.8" height="2.8" fill="#1c1c1c" rx="0.8"/>
<rect x="202" y="253" width="2.3" height="15.5" fill="#b8b8b8" rx="0.8"/>
<rect x="218.5" y="253.5" width="7.8" height="15" fill="#8c8c8c" rx="0.8"/>
<rect x="218.5" y="257.3" width="7.3" height="1.9" fill="#666" rx="0.8"/>
<rect x="218.5" y="262.5" width="7.3" height="2.7" fill="#2c2c2c" rx="0.8"/>
<rect x="215.4" y="253" width="2.2" height="15.5" fill="#bcbcbc" rx="0.8"/>
<rect x="227.3" y="253" width="3.1" height="15.5" fill="#b6b6b6" rx="0.8"/>
<rect x="208.3" y="294" width="7.3" height="2.2" fill="#888" rx="0.8"/>
<rect x="220" y="289" width="7.3" height="11.5" fill="#dedede" rx="0.8"/>
<rect x="195.5" y="315" width="7" height="6.5" fill="#9c9c9c" rx="0.8"/>
<rect x="208" y="315" width="6" height="4" fill="#d0d0d0" rx="0.8"/>
<rect x="219.2" y="310.2" width="8.3" height="1.9" fill="#bbb" rx="0.8"/>
<rect x="206.5" y="330.2" width="7" height="2" fill="#888" rx="0.8"/>
<rect x="220" y="324.5" width="6.7" height="6.5" fill="#dcdcdc" rx="0.8"/>
<rect x="197" y="324.5" width="4" height="4.5" fill="#d8d8d8" rx="0.8"/>
<rect x="205.6" y="349.6" width="8.8" height="1.9" fill="#4a4a4a" rx="0.8"/>
<rect x="220" y="347.7" width="8" height="2.2" fill="#8a8a8a" rx="0.8"/>
</g>
<text x="233.6" y="264.7" font-size="6.3" fill="#333">Bcr-Abl1</text>
<text x="233.6" y="279.6" font-size="6.3" fill="#333">pStat5a</text>
<text x="233.6" y="298.5" font-size="6.3" fill="#333">Stat5a</text>
<text x="233.6" y="314.2" font-size="6.3" fill="#333">pAkt(ser473)</text>
<text x="233.6" y="331.1" font-size="6.3" fill="#333">Akt</text>
<text x="233.6" y="348.8" font-size="6.3" fill="#333">Bcl-2</text>
<text x="233.6" y="368.9" font-size="6.3" fill="#333">β-actin</text>
<text x="6.9" y="384.6" font-size="6.6" fill="#333">DMSO</text>
<text x="6.9" y="391.6" font-size="6.6" fill="#333">AX (µM)</text>
<text x="35.8" y="384.4" font-size="6" text-anchor="middle" fill="#333">+</text>
<text x="35.8" y="391.5" font-size="6.2" text-anchor="middle" fill="#333">-</text>
<text x="48.5" y="384.4" font-size="6" text-anchor="middle" fill="#333">+</text>
<text x="48.5" y="391.5" font-size="6.2" text-anchor="middle" fill="#333">3</text>
<text x="59.3" y="384.4" font-size="6" text-anchor="middle" fill="#333">+</text>
<text x="59.3" y="391.5" font-size="6.2" text-anchor="middle" fill="#333">6</text>
<text x="77.4" y="384.4" font-size="6" text-anchor="middle" fill="#333">+</text>
<text x="77.4" y="391.5" font-size="6.2" text-anchor="middle" fill="#333">-</text>
<text x="88.4" y="384.4" font-size="6" text-anchor="middle" fill="#333">+</text>
<text x="88.4" y="391.5" font-size="6.2" text-anchor="middle" fill="#333">3</text>
<text x="100" y="384.4" font-size="6" text-anchor="middle" fill="#333">+</text>
<text x="100" y="391.5" font-size="6.2" text-anchor="middle" fill="#333">6</text>
<text x="118" y="384.4" font-size="6" text-anchor="middle" fill="#333">+</text>
<text x="118" y="391.5" font-size="6.2" text-anchor="middle" fill="#333">-</text>
<text x="128" y="384.4" font-size="6" text-anchor="middle" fill="#333">+</text>
<text x="128" y="391.5" font-size="6.2" text-anchor="middle" fill="#333">3</text>
<text x="139.5" y="384.4" font-size="6" text-anchor="middle" fill="#333">+</text>
<text x="139.5" y="391.5" font-size="6.2" text-anchor="middle" fill="#333">6</text>
<text x="156.3" y="384.4" font-size="6" text-anchor="middle" fill="#333">+</text>
<text x="156.3" y="391.5" font-size="6.2" text-anchor="middle" fill="#333">-</text>
<text x="168.8" y="384.4" font-size="6" text-anchor="middle" fill="#333">+</text>
<text x="168.8" y="391.5" font-size="6.2" text-anchor="middle" fill="#333">3</text>
<text x="180.8" y="384.4" font-size="6" text-anchor="middle" fill="#333">+</text>
<text x="180.8" y="391.5" font-size="6.2" text-anchor="middle" fill="#333">6</text>
<text x="197" y="384.4" font-size="6" text-anchor="middle" fill="#333">+</text>
<text x="197" y="391.5" font-size="6.2" text-anchor="middle" fill="#333">-</text>
<text x="209.5" y="384.4" font-size="6" text-anchor="middle" fill="#333">+</text>
<text x="209.5" y="391.5" font-size="6.2" text-anchor="middle" fill="#333">3</text>
<text x="220" y="384.4" font-size="6" text-anchor="middle" fill="#333">+</text>
<text x="220" y="391.5" font-size="6.2" text-anchor="middle" fill="#333">6</text>
</g>
<g id="panelD">
<text x="278.6" y="217" font-size="11" font-weight="bold" fill="#000">D</text>
<line x1="304" y1="232.45" x2="304" y2="290.6" stroke="#111" stroke-width="1.4"/>
<line x1="303.3" y1="290" x2="389.4" y2="290" stroke="#111" stroke-width="1.4"/>
<line x1="301.2" y1="289.8" x2="304" y2="289.8" stroke="#111" stroke-width="1.15"/>
<text x="297.7" y="291.6" font-size="5" text-anchor="end" fill="#1e1e1e" textLength="2.4" lengthAdjust="spacingAndGlyphs">0</text>
<line x1="301.2" y1="270.85" x2="304" y2="270.85" stroke="#111" stroke-width="1.15"/>
<text x="297.7" y="272.65" font-size="5" text-anchor="end" fill="#1e1e1e" textLength="7.2" lengthAdjust="spacingAndGlyphs">100</text>
<line x1="301.2" y1="251.9" x2="304" y2="251.9" stroke="#111" stroke-width="1.15"/>
<text x="297.7" y="253.7" font-size="5" text-anchor="end" fill="#1e1e1e" textLength="7.2" lengthAdjust="spacingAndGlyphs">200</text>
<line x1="301.2" y1="232.95" x2="304" y2="232.95" stroke="#111" stroke-width="1.15"/>
<text x="297.7" y="234.75" font-size="5" text-anchor="end" fill="#1e1e1e" textLength="7.2" lengthAdjust="spacingAndGlyphs">300</text>
<text x="342.1" y="223.25" font-size="6.4" text-anchor="middle" font-weight="bold" fill="#222">BA/F3</text>
<text x="284.6" y="297.7" font-size="7.2" fill="#1e1e1e" textLength="75" lengthAdjust="spacingAndGlyphs" transform="rotate(-90 284.6 297.7)">Colony number per 500 cells</text>
<rect x="305.6" y="241.2" width="6.3" height="48.6" fill="#bb0c2e"/>
<line x1="308.75" y1="241.2" x2="308.75" y2="239.4" stroke="#111" stroke-width="1"/>
<line x1="306.2" y1="239.4" x2="311.3" y2="239.4" stroke="#111" stroke-width="1.2"/>
<line x1="308.75" y1="289.8" x2="308.75" y2="293" stroke="#111" stroke-width="1.1"/>
<text x="311.55" y="298.8" font-size="5.5" text-anchor="end" fill="#111" transform="rotate(-45 311.55 298.8)">DMSO</text>
<rect x="315.05" y="254.7" width="6.3" height="35.1" fill="#2b4b87"/>
<line x1="318.2" y1="254.7" x2="318.2" y2="253.2" stroke="#111" stroke-width="1"/>
<line x1="315.65" y1="253.2" x2="320.75" y2="253.2" stroke="#111" stroke-width="1.2"/>
<text x="318.2" y="253.7" font-size="5.52" text-anchor="middle" fill="#000" letter-spacing="0.6">*</text>
<line x1="318.2" y1="289.8" x2="318.2" y2="293" stroke="#111" stroke-width="1.1"/>
<text x="321" y="298.8" font-size="5.5" text-anchor="end" fill="#111" transform="rotate(-45 321 298.8)">50nM PN</text>
<rect x="324.5" y="261.4" width="6.3" height="28.4" fill="#6db33f"/>
<line x1="327.65" y1="261.4" x2="327.65" y2="259.2" stroke="#111" stroke-width="1"/>
<line x1="325.1" y1="259.2" x2="330.2" y2="259.2" stroke="#111" stroke-width="1.2"/>
<text x="327.65" y="259.7" font-size="5.52" text-anchor="middle" fill="#000" letter-spacing="0.6">**</text>
<line x1="327.65" y1="289.8" x2="327.65" y2="293" stroke="#111" stroke-width="1.1"/>
<text x="330.45" y="298.8" font-size="5.5" text-anchor="end" fill="#111" transform="rotate(-45 330.45 298.8)">100nM PN</text>
<rect x="333.95" y="249.3" width="6.3" height="40.5" fill="#4b2167"/>
<line x1="337.1" y1="249.3" x2="337.1" y2="247" stroke="#111" stroke-width="1"/>
<line x1="334.55" y1="247" x2="339.65" y2="247" stroke="#111" stroke-width="1.2"/>
<line x1="337.1" y1="289.8" x2="337.1" y2="293" stroke="#111" stroke-width="1.1"/>
<text x="339.9" y="298.8" font-size="5.5" text-anchor="end" fill="#111" transform="rotate(-45 339.9 298.8)">3µM AX</text>
<rect x="343.4" y="256.8" width="6.3" height="33" fill="#e8961c"/>
<line x1="346.55" y1="256.8" x2="346.55" y2="254" stroke="#111" stroke-width="1"/>
<line x1="344" y1="254" x2="349.1" y2="254" stroke="#111" stroke-width="1.2"/>
<text x="346.55" y="254.5" font-size="5.52" text-anchor="middle" fill="#000" letter-spacing="0.6">*</text>
<line x1="346.55" y1="289.8" x2="346.55" y2="293" stroke="#111" stroke-width="1.1"/>
<text x="349.35" y="298.8" font-size="5.5" text-anchor="end" fill="#111" transform="rotate(-45 349.35 298.8)">6µM AX</text>
<rect x="352.85" y="249.8" width="6.3" height="40" fill="#2e6b4d"/>
<line x1="356" y1="249.8" x2="356" y2="248.6" stroke="#111" stroke-width="1"/>
<line x1="353.45" y1="248.6" x2="358.55" y2="248.6" stroke="#111" stroke-width="1.2"/>
<line x1="356" y1="289.8" x2="356" y2="293" stroke="#111" stroke-width="1.1"/>
<text x="358.8" y="298.8" font-size="5.5" text-anchor="end" fill="#111" transform="rotate(-45 358.8 298.8)">250nM IM</text>
<rect x="362.3" y="252.8" width="6.3" height="37" fill="#9a8cc8"/>
<line x1="365.45" y1="252.8" x2="365.45" y2="251.4" stroke="#111" stroke-width="1"/>
<line x1="362.9" y1="251.4" x2="368" y2="251.4" stroke="#111" stroke-width="1.2"/>
<text x="365.45" y="251.9" font-size="5.52" text-anchor="middle" fill="#000" letter-spacing="0.6">*</text>
<line x1="365.45" y1="289.8" x2="365.45" y2="293" stroke="#111" stroke-width="1.1"/>
<text x="368.25" y="298.8" font-size="5.5" text-anchor="end" fill="#111" transform="rotate(-45 368.25 298.8)">500nM IM</text>
<rect x="371.75" y="253.9" width="6.3" height="35.9" fill="#4d5563"/>
<line x1="374.9" y1="253.9" x2="374.9" y2="252.4" stroke="#111" stroke-width="1"/>
<line x1="372.35" y1="252.4" x2="377.45" y2="252.4" stroke="#111" stroke-width="1.2"/>
<text x="374.9" y="252.9" font-size="5.52" text-anchor="middle" fill="#000" letter-spacing="0.6">*</text>
<line x1="374.9" y1="289.8" x2="374.9" y2="293" stroke="#111" stroke-width="1.1"/>
<text x="377.7" y="298.8" font-size="5.5" text-anchor="end" fill="#111" transform="rotate(-45 377.7 298.8)">0.3mM NB</text>
<rect x="381.2" y="288.2" width="6.3" height="1.6" fill="#5aaad8"/>
<line x1="384.35" y1="288.2" x2="384.35" y2="287.4" stroke="#111" stroke-width="1"/>
<line x1="381.8" y1="287.4" x2="386.9" y2="287.4" stroke="#111" stroke-width="1.2"/>
<text x="384.35" y="287.9" font-size="5.52" text-anchor="middle" fill="#000" letter-spacing="0.6">**</text>
<line x1="384.35" y1="289.8" x2="384.35" y2="293" stroke="#111" stroke-width="1.1"/>
<text x="387.15" y="298.8" font-size="5.5" text-anchor="end" fill="#111" transform="rotate(-45 387.15 298.8)">20nM AUY922</text>
<line x1="427" y1="232.45" x2="427" y2="290.6" stroke="#111" stroke-width="1.4"/>
<line x1="426.3" y1="290" x2="513.2" y2="290" stroke="#111" stroke-width="1.4"/>
<line x1="424.2" y1="289.8" x2="427" y2="289.8" stroke="#111" stroke-width="1.15"/>
<text x="420.7" y="291.6" font-size="5" text-anchor="end" fill="#1e1e1e" textLength="2.4" lengthAdjust="spacingAndGlyphs">0</text>
<line x1="424.2" y1="270.85" x2="427" y2="270.85" stroke="#111" stroke-width="1.15"/>
<text x="420.7" y="272.65" font-size="5" text-anchor="end" fill="#1e1e1e" textLength="7.2" lengthAdjust="spacingAndGlyphs">100</text>
<line x1="424.2" y1="251.9" x2="427" y2="251.9" stroke="#111" stroke-width="1.15"/>
<text x="420.7" y="253.7" font-size="5" text-anchor="end" fill="#1e1e1e" textLength="7.2" lengthAdjust="spacingAndGlyphs">200</text>
<line x1="424.2" y1="232.95" x2="427" y2="232.95" stroke="#111" stroke-width="1.15"/>
<text x="420.7" y="234.75" font-size="5" text-anchor="end" fill="#1e1e1e" textLength="7.2" lengthAdjust="spacingAndGlyphs">300</text>
<text x="469.1" y="223.4" font-size="6.5" font-weight="bold" text-anchor="middle" fill="#222">BA/F3<tspan font-size="3.85" dy="-2.6">T315I</tspan></text>
<text x="408.1" y="297.5" font-size="7.2" fill="#1e1e1e" textLength="74.8" lengthAdjust="spacingAndGlyphs" transform="rotate(-90 408.1 297.5)">Colony number per 500 cells</text>
<rect x="428.3" y="243.9" width="5.5" height="45.9" fill="#bb0c2e"/>
<line x1="431.05" y1="243.9" x2="431.05" y2="242.4" stroke="#111" stroke-width="1"/>
<line x1="428.9" y1="242.4" x2="433.2" y2="242.4" stroke="#111" stroke-width="1.2"/>
<line x1="431.05" y1="289.8" x2="431.05" y2="293" stroke="#111" stroke-width="1.1"/>
<text x="433.85" y="298.8" font-size="5.5" text-anchor="end" fill="#111" transform="rotate(-45 433.85 298.8)">DMSO</text>
<rect x="436.07" y="245.2" width="5.5" height="44.6" fill="#2b4b87"/>
<line x1="438.82" y1="245.2" x2="438.82" y2="244" stroke="#111" stroke-width="1"/>
<line x1="436.67" y1="244" x2="440.97" y2="244" stroke="#111" stroke-width="1.2"/>
<line x1="438.82" y1="289.8" x2="438.82" y2="293" stroke="#111" stroke-width="1.1"/>
<text x="441.62" y="298.8" font-size="5.5" text-anchor="end" fill="#111" transform="rotate(-45 441.62 298.8)">250nM IM</text>
<rect x="443.84" y="248.5" width="5.5" height="41.3" fill="#6db33f"/>
<line x1="446.59" y1="248.5" x2="446.59" y2="245.6" stroke="#111" stroke-width="1"/>
<line x1="444.44" y1="245.6" x2="448.74" y2="245.6" stroke="#111" stroke-width="1.2"/>
<line x1="446.59" y1="289.8" x2="446.59" y2="293" stroke="#111" stroke-width="1.1"/>
<text x="449.39" y="298.8" font-size="5.5" text-anchor="end" fill="#111" transform="rotate(-45 449.39 298.8)">500nM IM</text>
<rect x="451.61" y="273.1" width="5.5" height="16.7" fill="#4b2167"/>
<line x1="454.36" y1="273.1" x2="454.36" y2="271.8" stroke="#111" stroke-width="1"/>
<line x1="452.21" y1="271.8" x2="456.51" y2="271.8" stroke="#111" stroke-width="1.2"/>
<text x="454.36" y="272.3" font-size="5.52" text-anchor="middle" fill="#000" letter-spacing="0.6">**</text>
<line x1="454.36" y1="289.8" x2="454.36" y2="293" stroke="#111" stroke-width="1.1"/>
<text x="457.16" y="298.8" font-size="5.5" text-anchor="end" fill="#111" transform="rotate(-45 457.16 298.8)">3µM AX</text>
<rect x="459.38" y="282.6" width="5.5" height="7.2" fill="#e8961c"/>
<line x1="462.13" y1="282.6" x2="462.13" y2="281.6" stroke="#111" stroke-width="1"/>
<line x1="459.98" y1="281.6" x2="464.28" y2="281.6" stroke="#111" stroke-width="1.2"/>
<text x="462.13" y="282.1" font-size="5.52" text-anchor="middle" fill="#000" letter-spacing="0.6">***</text>
<line x1="462.13" y1="289.8" x2="462.13" y2="293" stroke="#111" stroke-width="1.1"/>
<text x="464.93" y="298.8" font-size="5.5" text-anchor="end" fill="#111" transform="rotate(-45 464.93 298.8)">6µM AX</text>
<rect x="467.15" y="267.4" width="5.5" height="22.4" fill="#2e6b4d"/>
<line x1="469.9" y1="267.4" x2="469.9" y2="265" stroke="#111" stroke-width="1"/>
<line x1="467.75" y1="265" x2="472.05" y2="265" stroke="#111" stroke-width="1.2"/>
<text x="469.9" y="265.5" font-size="5.52" text-anchor="middle" fill="#000" letter-spacing="0.6">*</text>
<line x1="469.9" y1="289.8" x2="469.9" y2="293" stroke="#111" stroke-width="1.1"/>
<text x="472.7" y="298.8" font-size="5.5" text-anchor="end" fill="#111" transform="rotate(-45 472.7 298.8)">250nM IM + 1.5 µM AX</text>
<rect x="474.92" y="275" width="5.5" height="14.8" fill="#9a8cc8"/>
<line x1="477.67" y1="275" x2="477.67" y2="273" stroke="#111" stroke-width="1"/>
<line x1="475.52" y1="273" x2="479.82" y2="273" stroke="#111" stroke-width="1.2"/>
<text x="477.67" y="273.5" font-size="5.52" text-anchor="middle" fill="#000" letter-spacing="0.6">**</text>
<line x1="477.67" y1="289.8" x2="477.67" y2="293" stroke="#111" stroke-width="1.1"/>
<text x="480.47" y="298.8" font-size="5.5" text-anchor="end" fill="#111" transform="rotate(-45 480.47 298.8)">250nM IM + 3µM AX</text>
<rect x="482.69" y="285" width="5.5" height="4.8" fill="#4d5563"/>
<line x1="485.44" y1="285" x2="485.44" y2="284" stroke="#111" stroke-width="1"/>
<line x1="483.29" y1="284" x2="487.59" y2="284" stroke="#111" stroke-width="1.2"/>
<text x="485.44" y="284.5" font-size="5.52" text-anchor="middle" fill="#000" letter-spacing="0.6">***</text>
<line x1="485.44" y1="289.8" x2="485.44" y2="293" stroke="#111" stroke-width="1.1"/>
<text x="488.24" y="298.8" font-size="5.5" text-anchor="end" fill="#111" transform="rotate(-45 488.24 298.8)">250nM IM + 6µM AX</text>
<rect x="490.46" y="289.3" width="5.5" height="0.5" fill="#5aaad8"/>
<text x="493.21" y="289.8" font-size="5.52" text-anchor="middle" fill="#000" letter-spacing="0.6">***</text>
<line x1="493.21" y1="289.8" x2="493.21" y2="293" stroke="#111" stroke-width="1.1"/>
<text x="496.01" y="298.8" font-size="5.5" text-anchor="end" fill="#111" transform="rotate(-45 496.01 298.8)">0.3mM NB</text>
<rect x="498.23" y="269" width="5.5" height="20.8" fill="#c8187f"/>
<line x1="500.98" y1="269" x2="500.98" y2="267.2" stroke="#111" stroke-width="1"/>
<line x1="498.83" y1="267.2" x2="503.13" y2="267.2" stroke="#111" stroke-width="1.2"/>
<text x="500.98" y="267.7" font-size="5.52" text-anchor="middle" fill="#000" letter-spacing="0.6">**</text>
<line x1="500.98" y1="289.8" x2="500.98" y2="293" stroke="#111" stroke-width="1.1"/>
<text x="503.78" y="298.8" font-size="5.5" text-anchor="end" fill="#111" transform="rotate(-45 503.78 298.8)">20nM AUY922</text>
<rect x="506" y="277.7" width="5.5" height="12.1" fill="#c47d2c"/>
<line x1="508.75" y1="277.7" x2="508.75" y2="276.4" stroke="#111" stroke-width="1"/>
<line x1="506.6" y1="276.4" x2="510.9" y2="276.4" stroke="#111" stroke-width="1.2"/>
<text x="508.75" y="276.9" font-size="5.52" text-anchor="middle" fill="#000" letter-spacing="0.6">**</text>
<line x1="508.75" y1="289.8" x2="508.75" y2="293" stroke="#111" stroke-width="1.1"/>
<text x="511.55" y="298.8" font-size="5.5" text-anchor="end" fill="#111" transform="rotate(-45 511.55 298.8)">20nM PN</text>
<line x1="453.7" y1="248.5" x2="478" y2="248.5" stroke="#111" stroke-width="1.15"/>
<line x1="453.7" y1="246.8" x2="453.7" y2="250.2" stroke="#111" stroke-width="1.1"/>
<line x1="478" y1="246.8" x2="478" y2="250.2" stroke="#111" stroke-width="1.1"/>
<text x="465.85" y="248.5" font-size="5.52" text-anchor="middle" fill="#000" letter-spacing="0.6">*</text>
<line x1="461.8" y1="256.1" x2="485.6" y2="256.1" stroke="#111" stroke-width="1.15"/>
<line x1="461.8" y1="254.4" x2="461.8" y2="257.8" stroke="#111" stroke-width="1.1"/>
<line x1="485.6" y1="254.4" x2="485.6" y2="257.8" stroke="#111" stroke-width="1.1"/>
<text x="473.7" y="256.1" font-size="5.52" text-anchor="middle" fill="#000" letter-spacing="0.6">*</text>
<line x1="303.4" y1="367.35" x2="303.4" y2="425.5" stroke="#111" stroke-width="1.4"/>
<line x1="302.7" y1="424.9" x2="389.8" y2="424.9" stroke="#111" stroke-width="1.4"/>
<line x1="300.6" y1="424.7" x2="303.4" y2="424.7" stroke="#111" stroke-width="1.15"/>
<text x="297.1" y="426.5" font-size="5" text-anchor="end" fill="#1e1e1e" textLength="2.4" lengthAdjust="spacingAndGlyphs">0</text>
<line x1="300.6" y1="405.75" x2="303.4" y2="405.75" stroke="#111" stroke-width="1.15"/>
<text x="297.1" y="407.55" font-size="5" text-anchor="end" fill="#1e1e1e" textLength="7.2" lengthAdjust="spacingAndGlyphs">100</text>
<line x1="300.6" y1="386.8" x2="303.4" y2="386.8" stroke="#111" stroke-width="1.15"/>
<text x="297.1" y="388.6" font-size="5" text-anchor="end" fill="#1e1e1e" textLength="7.2" lengthAdjust="spacingAndGlyphs">200</text>
<line x1="300.6" y1="367.85" x2="303.4" y2="367.85" stroke="#111" stroke-width="1.15"/>
<text x="297.1" y="369.65" font-size="5" text-anchor="end" fill="#1e1e1e" textLength="7.2" lengthAdjust="spacingAndGlyphs">300</text>
<text x="344.8" y="355.6" font-size="6.5" font-weight="bold" text-anchor="middle" fill="#222">BA/F3<tspan font-size="3.55" dy="-2.6">T315I(PNr)</tspan></text>
<text x="285.2" y="432.9" font-size="7.2" fill="#1e1e1e" textLength="74.5" lengthAdjust="spacingAndGlyphs" transform="rotate(-90 285.2 432.9)">Colony number per 500 cells</text>
<rect x="304.5" y="380.8" width="5.5" height="43.9" fill="#bb0c2e"/>
<line x1="307.25" y1="380.8" x2="307.25" y2="379.6" stroke="#111" stroke-width="1"/>
<line x1="305.1" y1="379.6" x2="309.4" y2="379.6" stroke="#111" stroke-width="1.2"/>
<line x1="307.25" y1="424.7" x2="307.25" y2="427.9" stroke="#111" stroke-width="1.1"/>
<text x="310.05" y="433.7" font-size="5.5" text-anchor="end" fill="#111" transform="rotate(-45 310.05 433.7)">DMSO</text>
<rect x="312.36" y="384.3" width="5.5" height="40.4" fill="#2b4b87"/>
<line x1="315.11" y1="384.3" x2="315.11" y2="382.4" stroke="#111" stroke-width="1"/>
<line x1="312.96" y1="382.4" x2="317.26" y2="382.4" stroke="#111" stroke-width="1.2"/>
<line x1="315.11" y1="424.7" x2="315.11" y2="427.9" stroke="#111" stroke-width="1.1"/>
<text x="317.91" y="433.7" font-size="5.5" text-anchor="end" fill="#111" transform="rotate(-45 317.91 433.7)">50nM PN</text>
<rect x="320.22" y="389" width="5.5" height="35.7" fill="#6db33f"/>
<line x1="322.97" y1="389" x2="322.97" y2="386.8" stroke="#111" stroke-width="1"/>
<line x1="320.82" y1="386.8" x2="325.12" y2="386.8" stroke="#111" stroke-width="1.2"/>
<line x1="322.97" y1="424.7" x2="322.97" y2="427.9" stroke="#111" stroke-width="1.1"/>
<text x="325.77" y="433.7" font-size="5.5" text-anchor="end" fill="#111" transform="rotate(-45 325.77 433.7)">100nM PN</text>
<rect x="328.08" y="398.9" width="5.5" height="25.8" fill="#4b2167"/>
<line x1="330.83" y1="398.9" x2="330.83" y2="397" stroke="#111" stroke-width="1"/>
<line x1="328.68" y1="397" x2="332.98" y2="397" stroke="#111" stroke-width="1.2"/>
<text x="330.83" y="397.5" font-size="5.52" text-anchor="middle" fill="#000" letter-spacing="0.6">*</text>
<line x1="330.83" y1="424.7" x2="330.83" y2="427.9" stroke="#111" stroke-width="1.1"/>
<text x="333.63" y="433.7" font-size="5.5" text-anchor="end" fill="#111" transform="rotate(-45 333.63 433.7)">3µM AX</text>
<rect x="335.94" y="404.7" width="5.5" height="20" fill="#e8961c"/>
<line x1="338.69" y1="404.7" x2="338.69" y2="403.4" stroke="#111" stroke-width="1"/>
<line x1="336.54" y1="403.4" x2="340.84" y2="403.4" stroke="#111" stroke-width="1.2"/>
<text x="338.69" y="403.9" font-size="5.52" text-anchor="middle" fill="#000" letter-spacing="0.6">**</text>
<line x1="338.69" y1="424.7" x2="338.69" y2="427.9" stroke="#111" stroke-width="1.1"/>
<text x="341.49" y="433.7" font-size="5.5" text-anchor="end" fill="#111" transform="rotate(-45 341.49 433.7)">6µM AX</text>
<rect x="343.8" y="396" width="5.5" height="28.7" fill="#2e6b4d"/>
<line x1="346.55" y1="396" x2="346.55" y2="394.2" stroke="#111" stroke-width="1"/>
<line x1="344.4" y1="394.2" x2="348.7" y2="394.2" stroke="#111" stroke-width="1.2"/>
<text x="346.55" y="394.7" font-size="5.52" text-anchor="middle" fill="#000" letter-spacing="0.6">*</text>
<line x1="346.55" y1="424.7" x2="346.55" y2="427.9" stroke="#111" stroke-width="1.1"/>
<text x="349.35" y="433.7" font-size="5.5" text-anchor="end" fill="#111" transform="rotate(-45 349.35 433.7)">50nM PN + 1.5 µM AX</text>
<rect x="351.66" y="403.3" width="5.5" height="21.4" fill="#9a8cc8"/>
<line x1="354.41" y1="403.3" x2="354.41" y2="401.4" stroke="#111" stroke-width="1"/>
<line x1="352.26" y1="401.4" x2="356.56" y2="401.4" stroke="#111" stroke-width="1.2"/>
<text x="354.41" y="401.9" font-size="5.52" text-anchor="middle" fill="#000" letter-spacing="0.6">**</text>
<line x1="354.41" y1="424.7" x2="354.41" y2="427.9" stroke="#111" stroke-width="1.1"/>
<text x="357.21" y="433.7" font-size="5.5" text-anchor="end" fill="#111" transform="rotate(-45 357.21 433.7)">50nM PN + 3µM AX</text>
<rect x="359.52" y="411.4" width="5.5" height="13.3" fill="#4d5563"/>
<line x1="362.27" y1="411.4" x2="362.27" y2="409" stroke="#111" stroke-width="1"/>
<line x1="360.12" y1="409" x2="364.42" y2="409" stroke="#111" stroke-width="1.2"/>
<text x="362.27" y="409.5" font-size="5.52" text-anchor="middle" fill="#000" letter-spacing="0.6">**</text>
<line x1="362.27" y1="424.7" x2="362.27" y2="427.9" stroke="#111" stroke-width="1.1"/>
<text x="365.07" y="433.7" font-size="5.5" text-anchor="end" fill="#111" transform="rotate(-45 365.07 433.7)">50nM PN + 6µM AX</text>
<rect x="367.38" y="396" width="5.5" height="28.7" fill="#5aaad8"/>
<line x1="370.13" y1="396" x2="370.13" y2="394.4" stroke="#111" stroke-width="1"/>
<line x1="367.98" y1="394.4" x2="372.28" y2="394.4" stroke="#111" stroke-width="1.2"/>
<text x="370.13" y="394.9" font-size="5.52" text-anchor="middle" fill="#000" letter-spacing="0.6">**</text>
<line x1="370.13" y1="424.7" x2="370.13" y2="427.9" stroke="#111" stroke-width="1.1"/>
<text x="372.93" y="433.7" font-size="5.5" text-anchor="end" fill="#111" transform="rotate(-45 372.93 433.7)">0.3mM NB</text>
<rect x="375.24" y="415.8" width="5.5" height="8.9" fill="#c8187f"/>
<line x1="377.99" y1="415.8" x2="377.99" y2="413.4" stroke="#111" stroke-width="1"/>
<line x1="375.84" y1="413.4" x2="380.14" y2="413.4" stroke="#111" stroke-width="1.2"/>
<text x="377.99" y="413.9" font-size="5.52" text-anchor="middle" fill="#000" letter-spacing="0.6">**</text>
<line x1="377.99" y1="424.7" x2="377.99" y2="427.9" stroke="#111" stroke-width="1.1"/>
<text x="380.79" y="433.7" font-size="5.5" text-anchor="end" fill="#111" transform="rotate(-45 380.79 433.7)">20nM AUY922</text>
<rect x="383.1" y="385.8" width="5.5" height="38.9" fill="#c47d2c"/>
<line x1="385.85" y1="385.8" x2="385.85" y2="383.6" stroke="#111" stroke-width="1"/>
<line x1="383.7" y1="383.6" x2="388" y2="383.6" stroke="#111" stroke-width="1.2"/>
<line x1="385.85" y1="424.7" x2="385.85" y2="427.9" stroke="#111" stroke-width="1.1"/>
<text x="388.65" y="433.7" font-size="5.5" text-anchor="end" fill="#111" transform="rotate(-45 388.65 433.7)">500nM IM</text>
<line x1="339.3" y1="377.8" x2="362.7" y2="377.8" stroke="#111" stroke-width="1.15"/>
<line x1="339.3" y1="376.1" x2="339.3" y2="379.5" stroke="#111" stroke-width="1.1"/>
<line x1="362.7" y1="376.1" x2="362.7" y2="379.5" stroke="#111" stroke-width="1.1"/>
<text x="351" y="377.8" font-size="5.52" text-anchor="middle" fill="#000" letter-spacing="0.6">*</text>
<line x1="427" y1="367.4" x2="427" y2="425.5" stroke="#111" stroke-width="1.4"/>
<line x1="426.3" y1="424.9" x2="513" y2="424.9" stroke="#111" stroke-width="1.4"/>
<line x1="424.2" y1="424.7" x2="427" y2="424.7" stroke="#111" stroke-width="1.15"/>
<text x="420.7" y="426.5" font-size="5" text-anchor="end" fill="#1e1e1e" textLength="2.4" lengthAdjust="spacingAndGlyphs">0</text>
<line x1="424.2" y1="413.34" x2="427" y2="413.34" stroke="#111" stroke-width="1.15"/>
<text x="420.7" y="415.14" font-size="5" text-anchor="end" fill="#1e1e1e" textLength="4.8" lengthAdjust="spacingAndGlyphs">20</text>
<line x1="424.2" y1="401.98" x2="427" y2="401.98" stroke="#111" stroke-width="1.15"/>
<text x="420.7" y="403.78" font-size="5" text-anchor="end" fill="#1e1e1e" textLength="4.8" lengthAdjust="spacingAndGlyphs">40</text>
<line x1="424.2" y1="390.62" x2="427" y2="390.62" stroke="#111" stroke-width="1.15"/>
<text x="420.7" y="392.42" font-size="5" text-anchor="end" fill="#1e1e1e" textLength="4.8" lengthAdjust="spacingAndGlyphs">60</text>
<line x1="424.2" y1="379.26" x2="427" y2="379.26" stroke="#111" stroke-width="1.15"/>
<text x="420.7" y="381.06" font-size="5" text-anchor="end" fill="#1e1e1e" textLength="4.8" lengthAdjust="spacingAndGlyphs">80</text>
<line x1="424.2" y1="367.9" x2="427" y2="367.9" stroke="#111" stroke-width="1.15"/>
<text x="420.7" y="369.7" font-size="5" text-anchor="end" fill="#1e1e1e" textLength="7.2" lengthAdjust="spacingAndGlyphs">100</text>
<text x="464.8" y="356.3" font-size="6.4" text-anchor="middle" font-weight="bold" fill="#222" textLength="27.7" lengthAdjust="spacingAndGlyphs">K562 IMr</text>
<text x="406.8" y="432.9" font-size="7.2" fill="#1e1e1e" textLength="74.5" lengthAdjust="spacingAndGlyphs" transform="rotate(-90 406.8 432.9)">Colony number per 500 cells</text>
<rect x="428.8" y="375.9" width="6.5" height="48.8" fill="#bb0c2e"/>
<line x1="432.05" y1="375.9" x2="432.05" y2="374.2" stroke="#111" stroke-width="1"/>
<line x1="429.4" y1="374.2" x2="434.7" y2="374.2" stroke="#111" stroke-width="1.2"/>
<line x1="432.05" y1="424.7" x2="432.05" y2="427.9" stroke="#111" stroke-width="1.1"/>
<text x="434.85" y="433.7" font-size="5.5" text-anchor="end" fill="#111" transform="rotate(-45 434.85 433.7)">DMSO</text>
<rect x="438.16" y="383.7" width="6.5" height="41" fill="#2b4b87"/>
<line x1="441.41" y1="383.7" x2="441.41" y2="380.6" stroke="#111" stroke-width="1"/>
<line x1="438.76" y1="380.6" x2="444.06" y2="380.6" stroke="#111" stroke-width="1.2"/>
<text x="441.41" y="381.1" font-size="5.52" text-anchor="middle" fill="#000" letter-spacing="0.6">*</text>
<line x1="441.41" y1="424.7" x2="441.41" y2="427.9" stroke="#111" stroke-width="1.1"/>
<text x="444.21" y="433.7" font-size="5.5" text-anchor="end" fill="#111" transform="rotate(-45 444.21 433.7)">3µM AX</text>
<rect x="447.52" y="399.2" width="6.5" height="25.5" fill="#6db33f"/>
<line x1="450.77" y1="399.2" x2="450.77" y2="397.6" stroke="#111" stroke-width="1"/>
<line x1="448.12" y1="397.6" x2="453.42" y2="397.6" stroke="#111" stroke-width="1.2"/>
<text x="450.77" y="398.1" font-size="5.52" text-anchor="middle" fill="#000" letter-spacing="0.6">**</text>
<line x1="450.77" y1="424.7" x2="450.77" y2="427.9" stroke="#111" stroke-width="1.1"/>
<text x="453.57" y="433.7" font-size="5.5" text-anchor="end" fill="#111" transform="rotate(-45 453.57 433.7)">6µM AX</text>
<rect x="456.88" y="415.2" width="6.5" height="9.5" fill="#4b2167"/>
<line x1="460.13" y1="415.2" x2="460.13" y2="413.4" stroke="#111" stroke-width="1"/>
<line x1="457.48" y1="413.4" x2="462.78" y2="413.4" stroke="#111" stroke-width="1.2"/>
<text x="460.13" y="413.9" font-size="5.52" text-anchor="middle" fill="#000" letter-spacing="0.6">***</text>
<line x1="460.13" y1="424.7" x2="460.13" y2="427.9" stroke="#111" stroke-width="1.1"/>
<text x="462.93" y="433.7" font-size="5.5" text-anchor="end" fill="#111" transform="rotate(-45 462.93 433.7)">12µM AX</text>
<rect x="466.24" y="380.8" width="6.5" height="43.9" fill="#e8961c"/>
<line x1="469.49" y1="380.8" x2="469.49" y2="379.6" stroke="#111" stroke-width="1"/>
<line x1="466.84" y1="379.6" x2="472.14" y2="379.6" stroke="#111" stroke-width="1.2"/>
<text x="469.49" y="380.1" font-size="5.52" text-anchor="middle" fill="#000" letter-spacing="0.6">*</text>
<line x1="469.49" y1="424.7" x2="469.49" y2="427.9" stroke="#111" stroke-width="1.1"/>
<text x="472.29" y="433.7" font-size="5.5" text-anchor="end" fill="#111" transform="rotate(-45 472.29 433.7)">250nM IM</text>
<rect x="475.6" y="390.4" width="6.5" height="34.3" fill="#2e6b4d"/>
<line x1="478.85" y1="390.4" x2="478.85" y2="388" stroke="#111" stroke-width="1"/>
<line x1="476.2" y1="388" x2="481.5" y2="388" stroke="#111" stroke-width="1.2"/>
<text x="478.85" y="388.5" font-size="5.52" text-anchor="middle" fill="#000" letter-spacing="0.6">*</text>
<line x1="478.85" y1="424.7" x2="478.85" y2="427.9" stroke="#111" stroke-width="1.1"/>
<text x="481.65" y="433.7" font-size="5.5" text-anchor="end" fill="#111" transform="rotate(-45 481.65 433.7)">500nM IM</text>
<rect x="484.96" y="405.6" width="6.5" height="19.1" fill="#9a8cc8"/>
<line x1="488.21" y1="405.6" x2="488.21" y2="403.6" stroke="#111" stroke-width="1"/>
<line x1="485.56" y1="403.6" x2="490.86" y2="403.6" stroke="#111" stroke-width="1.2"/>
<text x="488.21" y="404.1" font-size="5.52" text-anchor="middle" fill="#000" letter-spacing="0.6">*</text>
<line x1="488.21" y1="424.7" x2="488.21" y2="427.9" stroke="#111" stroke-width="1.1"/>
<text x="491.01" y="433.7" font-size="5.5" text-anchor="end" fill="#111" transform="rotate(-45 491.01 433.7)">250nM IM + 3µM AX</text>
<rect x="494.32" y="414.3" width="6.5" height="10.4" fill="#4d5563"/>
<line x1="497.57" y1="414.3" x2="497.57" y2="412.6" stroke="#111" stroke-width="1"/>
<line x1="494.92" y1="412.6" x2="500.22" y2="412.6" stroke="#111" stroke-width="1.2"/>
<text x="497.57" y="413.1" font-size="5.52" text-anchor="middle" fill="#000" letter-spacing="0.6">**</text>
<line x1="497.57" y1="424.7" x2="497.57" y2="427.9" stroke="#111" stroke-width="1.1"/>
<text x="500.37" y="433.7" font-size="5.5" text-anchor="end" fill="#111" transform="rotate(-45 500.37 433.7)">250nM IM + 6µM AX</text>
<rect x="503.68" y="418.1" width="6.5" height="6.6" fill="#5aaad8"/>
<line x1="506.93" y1="418.1" x2="506.93" y2="417" stroke="#111" stroke-width="1"/>
<line x1="504.28" y1="417" x2="509.58" y2="417" stroke="#111" stroke-width="1.2"/>
<text x="506.93" y="417.5" font-size="5.52" text-anchor="middle" fill="#000" letter-spacing="0.6">**</text>
<line x1="506.93" y1="424.7" x2="506.93" y2="427.9" stroke="#111" stroke-width="1.1"/>
<text x="509.73" y="433.7" font-size="5.5" text-anchor="end" fill="#111" transform="rotate(-45 509.73 433.7)">0.3mM NB</text>
<line x1="441" y1="367.7" x2="489.1" y2="367.7" stroke="#111" stroke-width="1.15"/>
<line x1="441" y1="366" x2="441" y2="369.4" stroke="#111" stroke-width="1.1"/>
<line x1="489.1" y1="366" x2="489.1" y2="369.4" stroke="#111" stroke-width="1.1"/>
<text x="465.05" y="367.7" font-size="5.52" text-anchor="middle" fill="#000" letter-spacing="0.6">*</text>
<line x1="450.3" y1="375.9" x2="498.5" y2="375.9" stroke="#111" stroke-width="1.15"/>
<line x1="450.3" y1="374.2" x2="450.3" y2="377.6" stroke="#111" stroke-width="1.1"/>
<line x1="498.5" y1="374.2" x2="498.5" y2="377.6" stroke="#111" stroke-width="1.1"/>
<text x="474.4" y="375.9" font-size="5.52" text-anchor="middle" fill="#000" letter-spacing="0.6">***</text>
</g>
</g>
<rect x="0" y="0" width="520" height="1.25" fill="#000"/>
<rect x="0" y="478.5" width="520" height="1.5" fill="#000"/>
<rect x="0" y="0" width="1.15" height="480" fill="#000"/>
<rect x="519" y="0" width="1" height="480" fill="#000"/>
</svg>
</body></html>
